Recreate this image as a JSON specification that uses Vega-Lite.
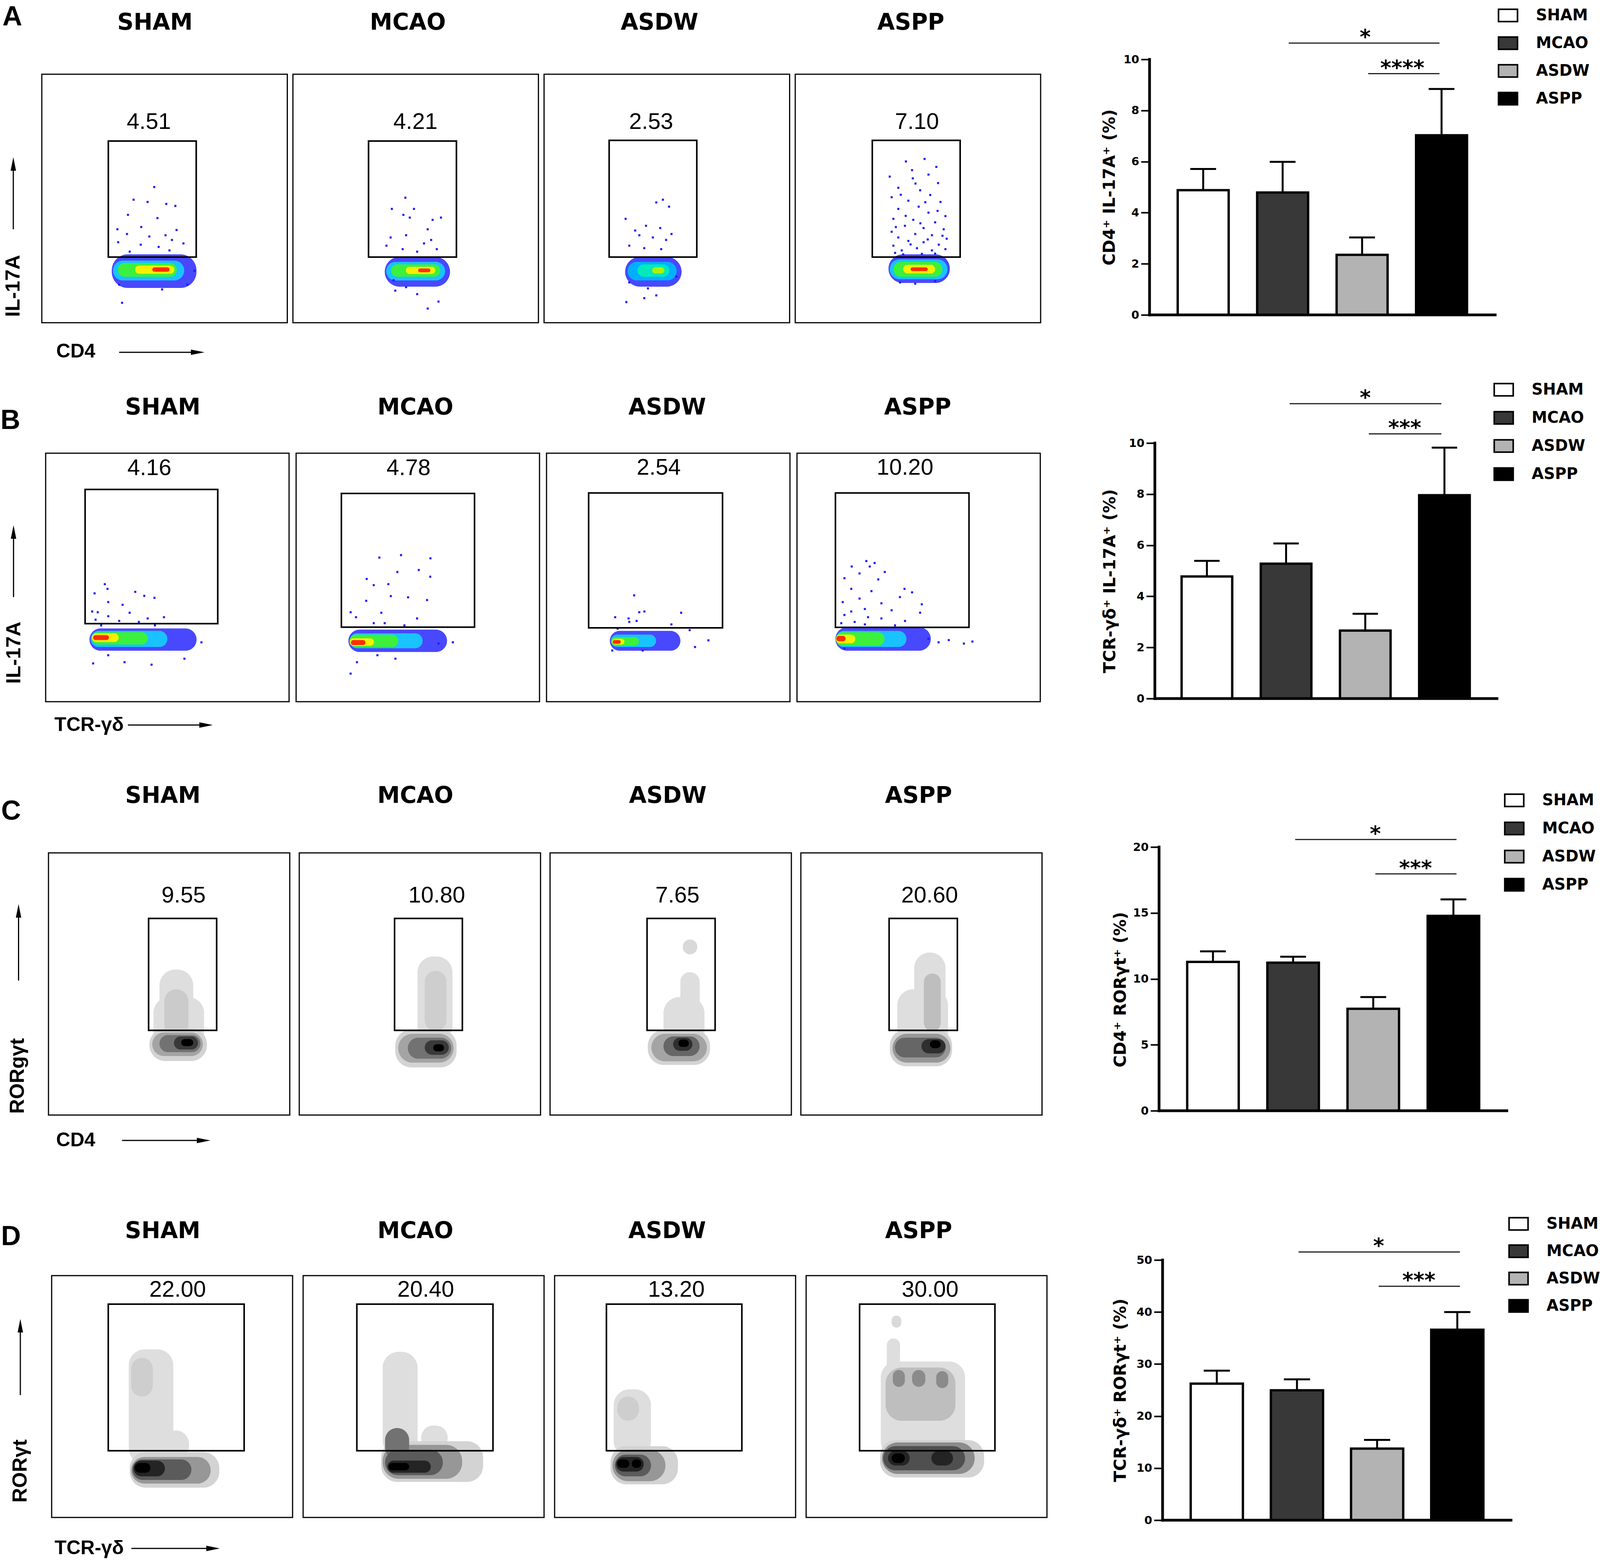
{
  "$schema": "https://vega.github.io/schema/vega-lite/v6.json",
  "background": "white",
  "padding": {"left": 1, "top": 9, "right": 0, "bottom": 0},
  "datasets": {
    "bars": [
      {"row": "A", "group": "SHAM", "mean": 4.88, "upper": 5.71},
      {"row": "A", "group": "MCAO", "mean": 4.79, "upper": 5.99},
      {"row": "A", "group": "ASDW", "mean": 2.35, "upper": 3.03},
      {"row": "A", "group": "ASPP", "mean": 7.03, "upper": 8.84},
      {"row": "B", "group": "SHAM", "mean": 4.78, "upper": 5.39},
      {"row": "B", "group": "MCAO", "mean": 5.28, "upper": 6.07},
      {"row": "B", "group": "ASDW", "mean": 2.66, "upper": 3.32},
      {"row": "B", "group": "ASPP", "mean": 7.96, "upper": 9.82},
      {"row": "C", "group": "SHAM", "mean": 11.29, "upper": 12.09},
      {"row": "C", "group": "MCAO", "mean": 11.23, "upper": 11.68},
      {"row": "C", "group": "ASDW", "mean": 7.73, "upper": 8.62},
      {"row": "C", "group": "ASPP", "mean": 14.78, "upper": 16.03},
      {"row": "D", "group": "SHAM", "mean": 26.24, "upper": 28.74},
      {"row": "D", "group": "MCAO", "mean": 24.97, "upper": 27.06},
      {"row": "D", "group": "ASDW", "mean": 13.75, "upper": 15.43},
      {"row": "D", "group": "ASPP", "mean": 36.6, "upper": 40.0}
    ],
    "axes": [
      {"row": "A", "xs": "SHAM", "xe": "ASPP", "y0": 0, "y1": 10},
      {"row": "B", "xs": "SHAM", "xe": "ASPP", "y0": 0, "y1": 10},
      {"row": "C", "xs": "SHAM", "xe": "ASPP", "y0": 0, "y1": 20},
      {"row": "D", "xs": "SHAM", "xe": "ASPP", "y0": 0, "y1": 50}
    ],
    "sig": [
      {"row": "A", "kind": "wide", "from": "MCAO", "to": "ASPP", "at": "ASDW", "y": 10.64, "label": "*"},
      {"row": "A", "kind": "narrow", "from": "ASDW", "to": "ASPP", "at": "ASDW", "y": 9.44, "label": "****"},
      {"row": "B", "kind": "wide", "from": "MCAO", "to": "ASPP", "at": "ASDW", "y": 11.54, "label": "*"},
      {"row": "B", "kind": "narrow", "from": "ASDW", "to": "ASPP", "at": "ASDW", "y": 10.36, "label": "***"},
      {"row": "C", "kind": "wide", "from": "MCAO", "to": "ASPP", "at": "ASDW", "y": 20.57, "label": "*"},
      {"row": "C", "kind": "narrow", "from": "ASDW", "to": "ASPP", "at": "ASDW", "y": 17.96, "label": "***"},
      {"row": "D", "kind": "wide", "from": "MCAO", "to": "ASPP", "at": "ASDW", "y": 51.54, "label": "*"},
      {"row": "D", "kind": "narrow", "from": "ASDW", "to": "ASPP", "at": "ASDW", "y": 44.96, "label": "***"}
    ],
    "flowA": [
      {"kind": "frame", "g": "SHAM", "x": 0, "x2": 100, "y": 0, "y2": 100},
      {"kind": "frame", "g": "MCAO", "x": 0, "x2": 100, "y": 0, "y2": 100},
      {"kind": "frame", "g": "ASDW", "x": 0, "x2": 100, "y": 0, "y2": 100},
      {"kind": "frame", "g": "ASPP", "x": 0, "x2": 100, "y": 0, "y2": 100},
      {"kind": "gate", "g": "SHAM", "x": 27.1, "x2": 62.9, "y": 26.4, "y2": 73.1},
      {"kind": "gate", "g": "MCAO", "x": 30.8, "x2": 66.6, "y": 26.4, "y2": 73.1},
      {"kind": "gate", "g": "ASDW", "x": 26.5, "x2": 62.2, "y": 26.4, "y2": 73.4},
      {"kind": "gate", "g": "ASPP", "x": 31.4, "x2": 67.2, "y": 26.4, "y2": 73.4},
      {"kind": "pct", "g": "SHAM", "x": 43.6, "y": 80.7, "t": "4.51"},
      {"kind": "pct", "g": "MCAO", "x": 49.9, "y": 80.7, "t": "4.21"},
      {"kind": "pct", "g": "ASDW", "x": 43.6, "y": 80.6, "t": "2.53"},
      {"kind": "pct", "g": "ASPP", "x": 49.6, "y": 80.6, "t": "7.10"},
      {"kind": "title", "g": "SHAM", "x": 46.1, "y": 120.6, "t": "SHAM"},
      {"kind": "title", "g": "MCAO", "x": 46.8, "y": 120.6, "t": "MCAO"},
      {"kind": "title", "g": "ASDW", "x": 47.0, "y": 120.6, "t": "ASDW"},
      {"kind": "title", "g": "ASPP", "x": 47.1, "y": 120.6, "t": "ASPP"},
      {"kind": "letter", "g": "SHAM", "x": -12.0, "y": 119.6, "t": "A"},
      {"kind": "ylab", "g": "SHAM", "x": -11.6, "y": 14.8, "t": "IL-17A"},
      {"kind": "arrow", "g": "SHAM", "x": -11.6, "x2": -11.6, "y": 37.6, "y2": 63.9},
      {"kind": "headup", "g": "SHAM", "x": -11.6, "y": 63.9},
      {"kind": "xlab", "g": "SHAM", "x": 5.9, "y": -11.6, "t": "CD4"},
      {"kind": "arrow", "g": "SHAM", "x": 31.5, "x2": 63.5, "y": -11.9, "y2": -11.9},
      {"kind": "headright", "g": "SHAM", "x": 63.5, "y": -11.9},
      {"kind": "blob", "g": "SHAM", "x": 28.5, "x2": 63, "y": 14, "y2": 27.5, "d": 0.1},
      {"kind": "blob", "g": "SHAM", "x": 29, "x2": 58, "y": 17, "y2": 25, "d": 0.35},
      {"kind": "blob", "g": "SHAM", "x": 31, "x2": 55, "y": 18.5, "y2": 24, "d": 0.6},
      {"kind": "blob", "g": "SHAM", "x": 38, "x2": 54, "y": 19.7, "y2": 23, "d": 0.8},
      {"kind": "blob", "g": "SHAM", "x": 45, "x2": 52, "y": 20.5, "y2": 22.3, "d": 1},
      {"kind": "blob", "g": "MCAO", "x": 37.4, "x2": 64, "y": 14.5, "y2": 26.5, "d": 0.1},
      {"kind": "blob", "g": "MCAO", "x": 38, "x2": 62, "y": 17, "y2": 24.5, "d": 0.35},
      {"kind": "blob", "g": "MCAO", "x": 40, "x2": 60, "y": 18.5, "y2": 23.5, "d": 0.6},
      {"kind": "blob", "g": "MCAO", "x": 46, "x2": 58, "y": 19.6, "y2": 22.5, "d": 0.8},
      {"kind": "blob", "g": "MCAO", "x": 51, "x2": 56, "y": 20.3, "y2": 21.8, "d": 1},
      {"kind": "blob", "g": "ASDW", "x": 33, "x2": 56, "y": 14.5, "y2": 26.5, "d": 0.1},
      {"kind": "blob", "g": "ASDW", "x": 34, "x2": 54, "y": 17, "y2": 24.5, "d": 0.3},
      {"kind": "blob", "g": "ASDW", "x": 38, "x2": 51, "y": 18.5, "y2": 23.5, "d": 0.5},
      {"kind": "blob", "g": "ASDW", "x": 44, "x2": 49, "y": 19.8, "y2": 22.3, "d": 0.7},
      {"kind": "blob", "g": "ASPP", "x": 38, "x2": 63, "y": 16, "y2": 27.5, "d": 0.1},
      {"kind": "blob", "g": "ASPP", "x": 38.5, "x2": 62, "y": 17.5, "y2": 25.5, "d": 0.35},
      {"kind": "blob", "g": "ASPP", "x": 40, "x2": 60, "y": 18.5, "y2": 24.5, "d": 0.6},
      {"kind": "blob", "g": "ASPP", "x": 44, "x2": 57, "y": 19.8, "y2": 23.3, "d": 0.8},
      {"kind": "blob", "g": "ASPP", "x": 47, "x2": 54, "y": 20.8, "y2": 22.3, "d": 1},
      {"kind": "dot", "g": "SHAM", "x": 45.8, "y": 54.6}, {"kind": "dot", "g": "SHAM", "x": 37.4, "y": 49.5},
      {"kind": "dot", "g": "SHAM", "x": 43.1, "y": 48.6}, {"kind": "dot", "g": "SHAM", "x": 50.7, "y": 47.8},
      {"kind": "dot", "g": "SHAM", "x": 54.4, "y": 47.0}, {"kind": "dot", "g": "SHAM", "x": 35.1, "y": 43.4},
      {"kind": "dot", "g": "SHAM", "x": 47.1, "y": 42.1}, {"kind": "dot", "g": "SHAM", "x": 30.8, "y": 37.6},
      {"kind": "dot", "g": "SHAM", "x": 40.5, "y": 38.5}, {"kind": "dot", "g": "SHAM", "x": 54.9, "y": 37.3},
      {"kind": "dot", "g": "SHAM", "x": 34.7, "y": 35.7}, {"kind": "dot", "g": "SHAM", "x": 43.8, "y": 34.7},
      {"kind": "dot", "g": "SHAM", "x": 50.4, "y": 35.2}, {"kind": "dot", "g": "SHAM", "x": 53.0, "y": 33.3},
      {"kind": "dot", "g": "SHAM", "x": 31.1, "y": 32.4}, {"kind": "dot", "g": "SHAM", "x": 40.3, "y": 31.4},
      {"kind": "dot", "g": "SHAM", "x": 47.6, "y": 30.5}, {"kind": "dot", "g": "SHAM", "x": 57.7, "y": 31.9},
      {"kind": "dot", "g": "SHAM", "x": 35.8, "y": 28.6}, {"kind": "dot", "g": "SHAM", "x": 52.0, "y": 29.1},
      {"kind": "dot", "g": "SHAM", "x": 32.7, "y": 8.0}, {"kind": "dot", "g": "SHAM", "x": 31.5, "y": 15.3},
      {"kind": "dot", "g": "SHAM", "x": 49.0, "y": 13.4}, {"kind": "dot", "g": "SHAM", "x": 59.3, "y": 15.3},
      {"kind": "dot", "g": "SHAM", "x": 62.2, "y": 20.9},
      {"kind": "dot", "g": "MCAO", "x": 45.8, "y": 50.3}, {"kind": "dot", "g": "MCAO", "x": 49.3, "y": 45.8},
      {"kind": "dot", "g": "MCAO", "x": 40.3, "y": 45.8}, {"kind": "dot", "g": "MCAO", "x": 45.0, "y": 43.4},
      {"kind": "dot", "g": "MCAO", "x": 47.6, "y": 42.3}, {"kind": "dot", "g": "MCAO", "x": 60.3, "y": 42.3},
      {"kind": "dot", "g": "MCAO", "x": 56.9, "y": 41.4}, {"kind": "dot", "g": "MCAO", "x": 39.8, "y": 34.3},
      {"kind": "dot", "g": "MCAO", "x": 46.1, "y": 35.2}, {"kind": "dot", "g": "MCAO", "x": 54.9, "y": 37.6},
      {"kind": "dot", "g": "MCAO", "x": 53.4, "y": 31.9}, {"kind": "dot", "g": "MCAO", "x": 56.3, "y": 33.3},
      {"kind": "dot", "g": "MCAO", "x": 38.1, "y": 31.0}, {"kind": "dot", "g": "MCAO", "x": 44.7, "y": 29.6},
      {"kind": "dot", "g": "MCAO", "x": 50.6, "y": 28.6}, {"kind": "dot", "g": "MCAO", "x": 58.6, "y": 29.6},
      {"kind": "dot", "g": "MCAO", "x": 41.0, "y": 17.1}, {"kind": "dot", "g": "MCAO", "x": 54.9, "y": 5.7},
      {"kind": "dot", "g": "MCAO", "x": 59.3, "y": 8.5}, {"kind": "dot", "g": "MCAO", "x": 50.6, "y": 11.5},
      {"kind": "dot", "g": "MCAO", "x": 41.7, "y": 12.9}, {"kind": "dot", "g": "MCAO", "x": 46.1, "y": 14.3},
      {"kind": "dot", "g": "ASDW", "x": 48.4, "y": 49.5}, {"kind": "dot", "g": "ASDW", "x": 45.7, "y": 48.4},
      {"kind": "dot", "g": "ASDW", "x": 50.9, "y": 46.7}, {"kind": "dot", "g": "ASDW", "x": 33.2, "y": 41.8},
      {"kind": "dot", "g": "ASDW", "x": 41.5, "y": 39.0}, {"kind": "dot", "g": "ASDW", "x": 47.3, "y": 38.1},
      {"kind": "dot", "g": "ASDW", "x": 37.1, "y": 37.1}, {"kind": "dot", "g": "ASDW", "x": 51.9, "y": 35.7},
      {"kind": "dot", "g": "ASDW", "x": 38.8, "y": 35.2}, {"kind": "dot", "g": "ASDW", "x": 44.3, "y": 34.3},
      {"kind": "dot", "g": "ASDW", "x": 49.7, "y": 33.3}, {"kind": "dot", "g": "ASDW", "x": 34.7, "y": 31.0},
      {"kind": "dot", "g": "ASDW", "x": 40.8, "y": 30.0}, {"kind": "dot", "g": "ASDW", "x": 47.7, "y": 29.6},
      {"kind": "dot", "g": "ASDW", "x": 33.5, "y": 8.3}, {"kind": "dot", "g": "ASDW", "x": 40.8, "y": 9.9},
      {"kind": "dot", "g": "ASDW", "x": 45.7, "y": 11.0}, {"kind": "dot", "g": "ASDW", "x": 42.3, "y": 13.8},
      {"kind": "dot", "g": "ASDW", "x": 34.7, "y": 16.2}, {"kind": "dot", "g": "ASDW", "x": 53.9, "y": 18.6},
      {"kind": "dot", "g": "ASPP", "x": 45.1, "y": 64.9}, {"kind": "dot", "g": "ASPP", "x": 52.7, "y": 65.9},
      {"kind": "dot", "g": "ASPP", "x": 57.5, "y": 62.7}, {"kind": "dot", "g": "ASPP", "x": 54.3, "y": 59.6},
      {"kind": "dot", "g": "ASPP", "x": 47.6, "y": 61.4}, {"kind": "dot", "g": "ASPP", "x": 38.5, "y": 58.8},
      {"kind": "dot", "g": "ASPP", "x": 47.9, "y": 58.1}, {"kind": "dot", "g": "ASPP", "x": 58.2, "y": 56.2},
      {"kind": "dot", "g": "ASPP", "x": 42.0, "y": 54.3}, {"kind": "dot", "g": "ASPP", "x": 50.9, "y": 53.3},
      {"kind": "dot", "g": "ASPP", "x": 55.0, "y": 51.4}, {"kind": "dot", "g": "ASPP", "x": 39.3, "y": 50.5},
      {"kind": "dot", "g": "ASPP", "x": 46.1, "y": 49.1}, {"kind": "dot", "g": "ASPP", "x": 59.2, "y": 48.6},
      {"kind": "dot", "g": "ASPP", "x": 50.3, "y": 46.7}, {"kind": "dot", "g": "ASPP", "x": 42.0, "y": 45.8},
      {"kind": "dot", "g": "ASPP", "x": 54.3, "y": 44.3}, {"kind": "dot", "g": "ASPP", "x": 61.2, "y": 42.9},
      {"kind": "dot", "g": "ASPP", "x": 40.0, "y": 41.8}, {"kind": "dot", "g": "ASPP", "x": 48.1, "y": 41.4},
      {"kind": "dot", "g": "ASPP", "x": 57.0, "y": 40.4}, {"kind": "dot", "g": "ASPP", "x": 44.7, "y": 39.0},
      {"kind": "dot", "g": "ASPP", "x": 52.3, "y": 38.1}, {"kind": "dot", "g": "ASPP", "x": 60.5, "y": 37.6},
      {"kind": "dot", "g": "ASPP", "x": 39.3, "y": 36.6}, {"kind": "dot", "g": "ASPP", "x": 48.9, "y": 35.7},
      {"kind": "dot", "g": "ASPP", "x": 55.7, "y": 35.2}, {"kind": "dot", "g": "ASPP", "x": 42.0, "y": 34.3},
      {"kind": "dot", "g": "ASPP", "x": 61.7, "y": 33.8}, {"kind": "dot", "g": "ASPP", "x": 46.1, "y": 32.9},
      {"kind": "dot", "g": "ASPP", "x": 52.3, "y": 32.4}, {"kind": "dot", "g": "ASPP", "x": 58.5, "y": 31.4},
      {"kind": "dot", "g": "ASPP", "x": 40.0, "y": 31.0}, {"kind": "dot", "g": "ASPP", "x": 49.6, "y": 30.0},
      {"kind": "dot", "g": "ASPP", "x": 43.4, "y": 29.1}, {"kind": "dot", "g": "ASPP", "x": 55.7, "y": 29.1},
      {"kind": "dot", "g": "ASPP", "x": 61.2, "y": 29.6}, {"kind": "dot", "g": "ASPP", "x": 40.7, "y": 28.1},
      {"kind": "dot", "g": "ASPP", "x": 51.6, "y": 27.7}, {"kind": "dot", "g": "ASPP", "x": 44.0, "y": 27.5},
      {"kind": "dot", "g": "ASPP", "x": 57.0, "y": 27.8}, {"kind": "dot", "g": "ASPP", "x": 47.0, "y": 31.5},
      {"kind": "dot", "g": "ASPP", "x": 54.0, "y": 33.5}, {"kind": "dot", "g": "ASPP", "x": 60.0, "y": 35.0},
      {"kind": "dot", "g": "ASPP", "x": 41.0, "y": 38.5}, {"kind": "dot", "g": "ASPP", "x": 51.0, "y": 40.0},
      {"kind": "dot", "g": "ASPP", "x": 45.0, "y": 43.0}, {"kind": "dot", "g": "ASPP", "x": 58.0, "y": 45.0},
      {"kind": "dot", "g": "ASPP", "x": 53.0, "y": 48.5}, {"kind": "dot", "g": "ASPP", "x": 43.0, "y": 51.5},
      {"kind": "dot", "g": "ASPP", "x": 49.0, "y": 56.0}, {"kind": "dot", "g": "ASPP", "x": 42.7, "y": 16.2},
      {"kind": "dot", "g": "ASPP", "x": 48.9, "y": 15.7}, {"kind": "dot", "g": "ASPP", "x": 57.0, "y": 16.7}
    ],
    "flowB": [
      {"kind": "frame", "g": "SHAM", "x": 0, "x2": 100, "y": 0, "y2": 100},
      {"kind": "frame", "g": "MCAO", "x": 0, "x2": 100, "y": 0, "y2": 100},
      {"kind": "frame", "g": "ASDW", "x": 0, "x2": 100, "y": 0, "y2": 100},
      {"kind": "frame", "g": "ASPP", "x": 0, "x2": 100, "y": 0, "y2": 100},
      {"kind": "gate", "g": "SHAM", "x": 16.2, "x2": 70.7, "y": 31.4, "y2": 85.4},
      {"kind": "gate", "g": "MCAO", "x": 18.6, "x2": 73.3, "y": 30.0, "y2": 83.8},
      {"kind": "gate", "g": "ASDW", "x": 17.3, "x2": 72.3, "y": 29.7, "y2": 84.0},
      {"kind": "gate", "g": "ASPP", "x": 15.8, "x2": 70.7, "y": 29.9, "y2": 84.0},
      {"kind": "pct", "g": "SHAM", "x": 42.6, "y": 93.8, "t": "4.16"},
      {"kind": "pct", "g": "MCAO", "x": 46.2, "y": 93.8, "t": "4.78"},
      {"kind": "pct", "g": "ASDW", "x": 46.1, "y": 94.0, "t": "2.54"},
      {"kind": "pct", "g": "ASPP", "x": 44.4, "y": 94.0, "t": "10.20"},
      {"kind": "title", "g": "SHAM", "x": 48.1, "y": 118.2, "t": "SHAM"},
      {"kind": "title", "g": "MCAO", "x": 49.0, "y": 118.2, "t": "MCAO"},
      {"kind": "title", "g": "ASDW", "x": 49.6, "y": 118.2, "t": "ASDW"},
      {"kind": "title", "g": "ASPP", "x": 49.6, "y": 118.2, "t": "ASPP"},
      {"kind": "letter", "g": "SHAM", "x": -14.5, "y": 109.7, "t": "B"},
      {"kind": "ylab", "g": "SHAM", "x": -13.0, "y": 19.7, "t": "IL-17A"},
      {"kind": "arrow", "g": "SHAM", "x": -13.2, "x2": -13.2, "y": 42.1, "y2": 68.3},
      {"kind": "headup", "g": "SHAM", "x": -13.2, "y": 68.3},
      {"kind": "xlab", "g": "SHAM", "x": 3.6, "y": -9.4, "t": "TCR-γδ"},
      {"kind": "arrow", "g": "SHAM", "x": 33.8, "x2": 65.9, "y": -9.4, "y2": -9.4},
      {"kind": "headright", "g": "SHAM", "x": 65.9, "y": -9.4},
      {"kind": "blob", "g": "SHAM", "x": 18, "x2": 62, "y": 20.5, "y2": 29.5, "d": 0.1},
      {"kind": "blob", "g": "SHAM", "x": 18.5, "x2": 50, "y": 22, "y2": 28.5, "d": 0.35},
      {"kind": "blob", "g": "SHAM", "x": 19, "x2": 42, "y": 23, "y2": 28, "d": 0.6},
      {"kind": "blob", "g": "SHAM", "x": 19, "x2": 30, "y": 24, "y2": 27.5, "d": 0.8},
      {"kind": "blob", "g": "SHAM", "x": 19.5, "x2": 26, "y": 24.8, "y2": 26.8, "d": 1},
      {"kind": "blob", "g": "MCAO", "x": 21.5, "x2": 62, "y": 20, "y2": 29, "d": 0.1},
      {"kind": "blob", "g": "MCAO", "x": 22, "x2": 52, "y": 21.5, "y2": 27.5, "d": 0.35},
      {"kind": "blob", "g": "MCAO", "x": 22, "x2": 42, "y": 22, "y2": 27, "d": 0.6},
      {"kind": "blob", "g": "MCAO", "x": 22, "x2": 32, "y": 22.5, "y2": 25.5, "d": 0.8},
      {"kind": "blob", "g": "MCAO", "x": 22.5, "x2": 28.5, "y": 22.8, "y2": 24.8, "d": 1},
      {"kind": "blob", "g": "ASDW", "x": 26, "x2": 55, "y": 20.5, "y2": 28.5, "d": 0.1},
      {"kind": "blob", "g": "ASDW", "x": 26.5, "x2": 45, "y": 22, "y2": 27, "d": 0.35},
      {"kind": "blob", "g": "ASDW", "x": 26.5, "x2": 38, "y": 22.5, "y2": 26, "d": 0.6},
      {"kind": "blob", "g": "ASDW", "x": 27, "x2": 32, "y": 23, "y2": 25.3, "d": 0.8},
      {"kind": "blob", "g": "ASDW", "x": 27.2, "x2": 30.5, "y": 23.3, "y2": 24.8, "d": 1},
      {"kind": "blob", "g": "ASPP", "x": 15.8, "x2": 55, "y": 20.5, "y2": 30, "d": 0.1},
      {"kind": "blob", "g": "ASPP", "x": 16, "x2": 45, "y": 22, "y2": 28.5, "d": 0.35},
      {"kind": "blob", "g": "ASPP", "x": 16, "x2": 36, "y": 22.5, "y2": 28, "d": 0.6},
      {"kind": "blob", "g": "ASPP", "x": 16, "x2": 24, "y": 23.5, "y2": 27, "d": 0.8},
      {"kind": "blob", "g": "ASPP", "x": 16.2, "x2": 20, "y": 24.3, "y2": 26.5, "d": 1},
      {"kind": "dot", "g": "SHAM", "x": 24.3, "y": 47.3}, {"kind": "dot", "g": "SHAM", "x": 20.1, "y": 43.6},
      {"kind": "dot", "g": "SHAM", "x": 25.4, "y": 45.4}, {"kind": "dot", "g": "SHAM", "x": 36.8, "y": 44.2},
      {"kind": "dot", "g": "SHAM", "x": 44.7, "y": 41.8}, {"kind": "dot", "g": "SHAM", "x": 40.5, "y": 42.6},
      {"kind": "dot", "g": "SHAM", "x": 25.7, "y": 40.1}, {"kind": "dot", "g": "SHAM", "x": 31.6, "y": 39.0},
      {"kind": "dot", "g": "SHAM", "x": 19.1, "y": 36.3}, {"kind": "dot", "g": "SHAM", "x": 21.4, "y": 36.0},
      {"kind": "dot", "g": "SHAM", "x": 34.5, "y": 35.8}, {"kind": "dot", "g": "SHAM", "x": 25.7, "y": 34.4},
      {"kind": "dot", "g": "SHAM", "x": 41.9, "y": 33.5}, {"kind": "dot", "g": "SHAM", "x": 48.6, "y": 34.0},
      {"kind": "dot", "g": "SHAM", "x": 20.5, "y": 33.0}, {"kind": "dot", "g": "SHAM", "x": 30.2, "y": 32.5},
      {"kind": "dot", "g": "SHAM", "x": 38.3, "y": 32.1}, {"kind": "dot", "g": "SHAM", "x": 22.8, "y": 30.7},
      {"kind": "dot", "g": "SHAM", "x": 44.9, "y": 30.7}, {"kind": "dot", "g": "SHAM", "x": 19.5, "y": 15.4},
      {"kind": "dot", "g": "SHAM", "x": 32.4, "y": 15.9}, {"kind": "dot", "g": "SHAM", "x": 43.5, "y": 14.9},
      {"kind": "dot", "g": "SHAM", "x": 57.0, "y": 17.3}, {"kind": "dot", "g": "SHAM", "x": 64.0, "y": 23.9},
      {"kind": "dot", "g": "SHAM", "x": 25.7, "y": 18.7},
      {"kind": "dot", "g": "MCAO", "x": 43.1, "y": 59.0}, {"kind": "dot", "g": "MCAO", "x": 34.2, "y": 58.0},
      {"kind": "dot", "g": "MCAO", "x": 55.2, "y": 57.7}, {"kind": "dot", "g": "MCAO", "x": 50.4, "y": 53.0},
      {"kind": "dot", "g": "MCAO", "x": 55.1, "y": 50.3}, {"kind": "dot", "g": "MCAO", "x": 41.6, "y": 52.2},
      {"kind": "dot", "g": "MCAO", "x": 29.0, "y": 49.4}, {"kind": "dot", "g": "MCAO", "x": 37.9, "y": 47.3},
      {"kind": "dot", "g": "MCAO", "x": 31.9, "y": 46.9}, {"kind": "dot", "g": "MCAO", "x": 46.0, "y": 42.0},
      {"kind": "dot", "g": "MCAO", "x": 28.8, "y": 40.6}, {"kind": "dot", "g": "MCAO", "x": 38.9, "y": 42.5},
      {"kind": "dot", "g": "MCAO", "x": 53.8, "y": 40.9}, {"kind": "dot", "g": "MCAO", "x": 22.4, "y": 36.0},
      {"kind": "dot", "g": "MCAO", "x": 35.0, "y": 35.8}, {"kind": "dot", "g": "MCAO", "x": 49.7, "y": 33.5},
      {"kind": "dot", "g": "MCAO", "x": 24.6, "y": 34.0}, {"kind": "dot", "g": "MCAO", "x": 31.9, "y": 31.6},
      {"kind": "dot", "g": "MCAO", "x": 36.4, "y": 31.6}, {"kind": "dot", "g": "MCAO", "x": 44.5, "y": 30.7},
      {"kind": "dot", "g": "MCAO", "x": 64.4, "y": 23.9}, {"kind": "dot", "g": "MCAO", "x": 58.5, "y": 23.4},
      {"kind": "dot", "g": "MCAO", "x": 22.4, "y": 11.3}, {"kind": "dot", "g": "MCAO", "x": 25.0, "y": 15.9},
      {"kind": "dot", "g": "MCAO", "x": 40.8, "y": 17.3}, {"kind": "dot", "g": "MCAO", "x": 33.4, "y": 18.7},
      {"kind": "dot", "g": "ASDW", "x": 36.0, "y": 42.8}, {"kind": "dot", "g": "ASDW", "x": 38.1, "y": 36.0},
      {"kind": "dot", "g": "ASDW", "x": 40.2, "y": 36.3}, {"kind": "dot", "g": "ASDW", "x": 55.3, "y": 35.8},
      {"kind": "dot", "g": "ASDW", "x": 28.2, "y": 34.0}, {"kind": "dot", "g": "ASDW", "x": 33.7, "y": 33.5},
      {"kind": "dot", "g": "ASDW", "x": 37.0, "y": 32.5}, {"kind": "dot", "g": "ASDW", "x": 34.0, "y": 32.1},
      {"kind": "dot", "g": "ASDW", "x": 51.3, "y": 31.1}, {"kind": "dot", "g": "ASDW", "x": 29.2, "y": 29.4},
      {"kind": "dot", "g": "ASDW", "x": 58.8, "y": 28.8}, {"kind": "dot", "g": "ASDW", "x": 66.5, "y": 24.7},
      {"kind": "dot", "g": "ASDW", "x": 61.0, "y": 22.0}, {"kind": "dot", "g": "ASDW", "x": 39.5, "y": 20.6},
      {"kind": "dot", "g": "ASDW", "x": 27.0, "y": 20.6},
      {"kind": "dot", "g": "ASPP", "x": 31.9, "y": 55.8}, {"kind": "dot", "g": "ASPP", "x": 29.9, "y": 54.4},
      {"kind": "dot", "g": "ASPP", "x": 28.5, "y": 56.6}, {"kind": "dot", "g": "ASPP", "x": 22.5, "y": 54.4},
      {"kind": "dot", "g": "ASPP", "x": 36.1, "y": 52.2}, {"kind": "dot", "g": "ASPP", "x": 19.5, "y": 49.7},
      {"kind": "dot", "g": "ASPP", "x": 25.7, "y": 51.6}, {"kind": "dot", "g": "ASPP", "x": 33.4, "y": 49.2},
      {"kind": "dot", "g": "ASPP", "x": 22.3, "y": 45.4}, {"kind": "dot", "g": "ASPP", "x": 30.6, "y": 44.5},
      {"kind": "dot", "g": "ASPP", "x": 44.2, "y": 45.4}, {"kind": "dot", "g": "ASPP", "x": 47.3, "y": 44.0},
      {"kind": "dot", "g": "ASPP", "x": 42.3, "y": 42.1}, {"kind": "dot", "g": "ASPP", "x": 25.7, "y": 41.5},
      {"kind": "dot", "g": "ASPP", "x": 18.8, "y": 40.1}, {"kind": "dot", "g": "ASPP", "x": 34.7, "y": 39.6},
      {"kind": "dot", "g": "ASPP", "x": 51.3, "y": 39.2}, {"kind": "dot", "g": "ASPP", "x": 27.9, "y": 37.3},
      {"kind": "dot", "g": "ASPP", "x": 22.3, "y": 36.3}, {"kind": "dot", "g": "ASPP", "x": 38.9, "y": 36.8},
      {"kind": "dot", "g": "ASPP", "x": 50.6, "y": 35.8}, {"kind": "dot", "g": "ASPP", "x": 19.5, "y": 34.9},
      {"kind": "dot", "g": "ASPP", "x": 29.2, "y": 34.0}, {"kind": "dot", "g": "ASPP", "x": 34.7, "y": 33.5},
      {"kind": "dot", "g": "ASPP", "x": 44.4, "y": 32.5}, {"kind": "dot", "g": "ASPP", "x": 23.7, "y": 32.1},
      {"kind": "dot", "g": "ASPP", "x": 18.2, "y": 31.6}, {"kind": "dot", "g": "ASPP", "x": 27.9, "y": 31.1},
      {"kind": "dot", "g": "ASPP", "x": 40.3, "y": 30.7}, {"kind": "dot", "g": "ASPP", "x": 58.2, "y": 23.9},
      {"kind": "dot", "g": "ASPP", "x": 62.4, "y": 24.8}, {"kind": "dot", "g": "ASPP", "x": 68.6, "y": 23.4},
      {"kind": "dot", "g": "ASPP", "x": 72.1, "y": 24.2}, {"kind": "dot", "g": "ASPP", "x": 54.0, "y": 25.3},
      {"kind": "dot", "g": "ASPP", "x": 19.5, "y": 21.5}
    ],
    "flowC": [
      {"kind": "frame", "g": "SHAM", "x": 0, "x2": 100, "y": 0, "y2": 100},
      {"kind": "frame", "g": "MCAO", "x": 0, "x2": 100, "y": 0, "y2": 100},
      {"kind": "frame", "g": "ASDW", "x": 0, "x2": 100, "y": 0, "y2": 100},
      {"kind": "frame", "g": "ASPP", "x": 0, "x2": 100, "y": 0, "y2": 100},
      {"kind": "gate", "g": "SHAM", "x": 41.5, "x2": 69.7, "y": 32.3, "y2": 75.0},
      {"kind": "gate", "g": "MCAO", "x": 39.5, "x2": 67.6, "y": 32.3, "y2": 75.0},
      {"kind": "gate", "g": "ASDW", "x": 40.2, "x2": 68.4, "y": 32.3, "y2": 75.0},
      {"kind": "gate", "g": "ASPP", "x": 36.6, "x2": 64.9, "y": 32.3, "y2": 75.0},
      {"kind": "pct", "g": "SHAM", "x": 56.0, "y": 83.6, "t": "9.55"},
      {"kind": "pct", "g": "MCAO", "x": 57.0, "y": 83.6, "t": "10.80"},
      {"kind": "pct", "g": "ASDW", "x": 52.8, "y": 83.6, "t": "7.65"},
      {"kind": "pct", "g": "ASPP", "x": 53.4, "y": 83.6, "t": "20.60"},
      {"kind": "title", "g": "SHAM", "x": 47.4, "y": 121.6, "t": "SHAM"},
      {"kind": "title", "g": "MCAO", "x": 48.1, "y": 121.6, "t": "MCAO"},
      {"kind": "title", "g": "ASDW", "x": 48.8, "y": 121.6, "t": "ASDW"},
      {"kind": "title", "g": "ASPP", "x": 48.8, "y": 121.6, "t": "ASPP"},
      {"kind": "letter", "g": "SHAM", "x": -15.5, "y": 112.7, "t": "C"},
      {"kind": "ylab", "g": "SHAM", "x": -12.8, "y": 14.9, "t": "RORgγt"},
      {"kind": "arrow", "g": "SHAM", "x": -12.4, "x2": -12.4, "y": 51.3, "y2": 77.9},
      {"kind": "headup", "g": "SHAM", "x": -12.4, "y": 77.9},
      {"kind": "xlab", "g": "SHAM", "x": 3.2, "y": -9.7, "t": "CD4"},
      {"kind": "arrow", "g": "SHAM", "x": 30.5, "x2": 64.3, "y": -9.7, "y2": -9.7},
      {"kind": "headright", "g": "SHAM", "x": 64.3, "y": -9.7},
      {"kind": "blob", "g": "SHAM", "x": 43.5, "x2": 64.5, "y": 22, "y2": 45, "d": 0.08},
      {"kind": "blob", "g": "SHAM", "x": 46, "x2": 60, "y": 35, "y2": 55.5, "d": 0.08},
      {"kind": "blob", "g": "SHAM", "x": 48, "x2": 58, "y": 30, "y2": 48, "d": 0.15},
      {"kind": "blob", "g": "SHAM", "x": 41.8, "x2": 65.7, "y": 20.6, "y2": 33, "d": 0.12},
      {"kind": "blob", "g": "SHAM", "x": 43, "x2": 64, "y": 22.5, "y2": 31.5, "d": 0.3},
      {"kind": "blob", "g": "SHAM", "x": 46, "x2": 63, "y": 24, "y2": 30.5, "d": 0.5},
      {"kind": "blob", "g": "SHAM", "x": 52, "x2": 62, "y": 25, "y2": 30, "d": 0.75},
      {"kind": "blob", "g": "SHAM", "x": 55, "x2": 60, "y": 26.3, "y2": 29, "d": 1},
      {"kind": "blob", "g": "MCAO", "x": 49, "x2": 63.5, "y": 28, "y2": 60.5, "d": 0.08},
      {"kind": "blob", "g": "MCAO", "x": 52, "x2": 61, "y": 32, "y2": 55, "d": 0.14},
      {"kind": "blob", "g": "MCAO", "x": 39.8, "x2": 65.2, "y": 18.2, "y2": 32.6, "d": 0.12},
      {"kind": "blob", "g": "MCAO", "x": 41, "x2": 64, "y": 20, "y2": 31, "d": 0.3},
      {"kind": "blob", "g": "MCAO", "x": 45, "x2": 63, "y": 21.5, "y2": 29.5, "d": 0.5},
      {"kind": "blob", "g": "MCAO", "x": 52, "x2": 62, "y": 23, "y2": 28.5, "d": 0.75},
      {"kind": "blob", "g": "MCAO", "x": 55.5, "x2": 60, "y": 24.3, "y2": 27, "d": 1},
      {"kind": "blob", "g": "ASDW", "x": 47, "x2": 64, "y": 25, "y2": 45, "d": 0.08},
      {"kind": "blob", "g": "ASDW", "x": 54, "x2": 62, "y": 35, "y2": 54.5, "d": 0.08},
      {"kind": "blob", "g": "ASDW", "x": 55, "x2": 61, "y": 61.3, "y2": 67, "d": 0.1},
      {"kind": "blob", "g": "ASDW", "x": 40.5, "x2": 66.3, "y": 19.1, "y2": 32.5, "d": 0.12},
      {"kind": "blob", "g": "ASDW", "x": 42, "x2": 65, "y": 20.5, "y2": 31, "d": 0.3},
      {"kind": "blob", "g": "ASDW", "x": 47, "x2": 62, "y": 22.5, "y2": 30, "d": 0.55},
      {"kind": "blob", "g": "ASDW", "x": 51, "x2": 59, "y": 24.5, "y2": 29.5, "d": 0.8},
      {"kind": "blob", "g": "ASDW", "x": 53.2, "x2": 57.5, "y": 26, "y2": 28.8, "d": 1},
      {"kind": "blob", "g": "ASPP", "x": 40, "x2": 61, "y": 25, "y2": 48, "d": 0.08},
      {"kind": "blob", "g": "ASPP", "x": 47, "x2": 60, "y": 38, "y2": 62, "d": 0.08},
      {"kind": "blob", "g": "ASPP", "x": 51, "x2": 58, "y": 32, "y2": 54, "d": 0.2},
      {"kind": "blob", "g": "ASPP", "x": 36.9, "x2": 62.7, "y": 18.6, "y2": 32.6, "d": 0.12},
      {"kind": "blob", "g": "ASPP", "x": 38, "x2": 62, "y": 20, "y2": 31, "d": 0.35},
      {"kind": "blob", "g": "ASPP", "x": 39, "x2": 60, "y": 22, "y2": 29.5, "d": 0.55},
      {"kind": "blob", "g": "ASPP", "x": 50, "x2": 60, "y": 23.5, "y2": 29, "d": 0.8},
      {"kind": "blob", "g": "ASPP", "x": 53.5, "x2": 58, "y": 25.5, "y2": 28.5, "d": 1}
    ],
    "flowD": [
      {"kind": "frame", "g": "SHAM", "x": 0, "x2": 100, "y": 0, "y2": 100},
      {"kind": "frame", "g": "MCAO", "x": 0, "x2": 100, "y": 0, "y2": 100},
      {"kind": "frame", "g": "ASDW", "x": 0, "x2": 100, "y": 0, "y2": 100},
      {"kind": "frame", "g": "ASPP", "x": 0, "x2": 100, "y": 0, "y2": 100},
      {"kind": "gate", "g": "SHAM", "x": 23.5, "x2": 79.9, "y": 27.6, "y2": 88.2},
      {"kind": "gate", "g": "MCAO", "x": 22.3, "x2": 78.8, "y": 27.6, "y2": 88.2},
      {"kind": "gate", "g": "ASDW", "x": 21.5, "x2": 77.7, "y": 27.6, "y2": 88.2},
      {"kind": "gate", "g": "ASPP", "x": 22.2, "x2": 78.4, "y": 27.6, "y2": 88.2},
      {"kind": "pct", "g": "SHAM", "x": 52.3, "y": 94.1, "t": "22.00"},
      {"kind": "pct", "g": "MCAO", "x": 50.9, "y": 94.1, "t": "20.40"},
      {"kind": "pct", "g": "ASDW", "x": 50.5, "y": 94.1, "t": "13.20"},
      {"kind": "pct", "g": "ASPP", "x": 51.5, "y": 94.1, "t": "30.00"},
      {"kind": "title", "g": "SHAM", "x": 46.1, "y": 118.3, "t": "SHAM"},
      {"kind": "title", "g": "MCAO", "x": 46.6, "y": 118.3, "t": "MCAO"},
      {"kind": "title", "g": "ASDW", "x": 46.7, "y": 118.3, "t": "ASDW"},
      {"kind": "title", "g": "ASPP", "x": 46.7, "y": 118.3, "t": "ASPP"},
      {"kind": "letter", "g": "SHAM", "x": -16.9, "y": 112.6, "t": "D"},
      {"kind": "ylab", "g": "SHAM", "x": -13.0, "y": 19.2, "t": "RORγt"},
      {"kind": "arrow", "g": "SHAM", "x": -13.0, "x2": -13.0, "y": 50.6, "y2": 79.3},
      {"kind": "headup", "g": "SHAM", "x": -13.0, "y": 79.3},
      {"kind": "xlab", "g": "SHAM", "x": 1.2, "y": -12.8, "t": "TCR-γδ"},
      {"kind": "arrow", "g": "SHAM", "x": 33.1, "x2": 67.0, "y": -12.8, "y2": -12.8},
      {"kind": "headright", "g": "SHAM", "x": 67.0, "y": -12.8},
      {"kind": "blob", "g": "SHAM", "x": 32, "x2": 50.5, "y": 22, "y2": 69.5, "d": 0.08},
      {"kind": "blob", "g": "SHAM", "x": 33, "x2": 42, "y": 50, "y2": 66, "d": 0.14},
      {"kind": "blob", "g": "SHAM", "x": 46, "x2": 57, "y": 24, "y2": 36, "d": 0.08},
      {"kind": "blob", "g": "SHAM", "x": 32.4, "x2": 69.6, "y": 12.3, "y2": 27, "d": 0.12},
      {"kind": "blob", "g": "SHAM", "x": 33, "x2": 66, "y": 14, "y2": 25, "d": 0.35},
      {"kind": "blob", "g": "SHAM", "x": 33.5, "x2": 58, "y": 15.5, "y2": 24, "d": 0.6},
      {"kind": "blob", "g": "SHAM", "x": 34, "x2": 47, "y": 17, "y2": 23.5, "d": 0.85},
      {"kind": "blob", "g": "SHAM", "x": 34.5, "x2": 41, "y": 18.5, "y2": 22.5, "d": 1},
      {"kind": "blob", "g": "MCAO", "x": 33, "x2": 47.5, "y": 25, "y2": 68.5, "d": 0.08},
      {"kind": "blob", "g": "MCAO", "x": 49, "x2": 60, "y": 28, "y2": 38, "d": 0.08},
      {"kind": "blob", "g": "MCAO", "x": 32.4, "x2": 74.7, "y": 14.7, "y2": 31.5, "d": 0.12},
      {"kind": "blob", "g": "MCAO", "x": 33, "x2": 66, "y": 16, "y2": 30, "d": 0.35},
      {"kind": "blob", "g": "MCAO", "x": 34, "x2": 44, "y": 24, "y2": 37, "d": 0.5},
      {"kind": "blob", "g": "MCAO", "x": 34, "x2": 58, "y": 17.5, "y2": 28, "d": 0.6},
      {"kind": "blob", "g": "MCAO", "x": 35, "x2": 53, "y": 18.5, "y2": 23.5, "d": 0.85},
      {"kind": "blob", "g": "MCAO", "x": 35.5, "x2": 44, "y": 19.5, "y2": 22.5, "d": 1},
      {"kind": "blob", "g": "ASDW", "x": 24.5, "x2": 40, "y": 25, "y2": 53, "d": 0.08},
      {"kind": "blob", "g": "ASDW", "x": 26, "x2": 35, "y": 40, "y2": 50, "d": 0.14},
      {"kind": "blob", "g": "ASDW", "x": 23.2, "x2": 51.2, "y": 13.7, "y2": 29.5, "d": 0.12},
      {"kind": "blob", "g": "ASDW", "x": 24, "x2": 46, "y": 15, "y2": 28, "d": 0.35},
      {"kind": "blob", "g": "ASDW", "x": 25, "x2": 40, "y": 17, "y2": 26, "d": 0.6},
      {"kind": "blob", "g": "ASDW", "x": 25.5, "x2": 37, "y": 19, "y2": 25, "d": 0.85},
      {"kind": "blob", "g": "ASDW", "x": 26, "x2": 31, "y": 20.5, "y2": 24, "d": 1},
      {"kind": "blob", "g": "ASDW", "x": 32, "x2": 36, "y": 20.5, "y2": 24, "d": 1},
      {"kind": "blob", "g": "ASPP", "x": 31, "x2": 66, "y": 25, "y2": 64.5, "d": 0.08},
      {"kind": "blob", "g": "ASPP", "x": 33.5, "x2": 39, "y": 55, "y2": 74, "d": 0.08},
      {"kind": "blob", "g": "ASPP", "x": 35.5, "x2": 39.5, "y": 78.5, "y2": 83.5, "d": 0.1},
      {"kind": "blob", "g": "ASPP", "x": 33, "x2": 62, "y": 40, "y2": 62, "d": 0.2},
      {"kind": "blob", "g": "ASPP", "x": 36, "x2": 41, "y": 54, "y2": 61, "d": 0.4},
      {"kind": "blob", "g": "ASPP", "x": 44, "x2": 49.5, "y": 54, "y2": 61, "d": 0.4},
      {"kind": "blob", "g": "ASPP", "x": 54, "x2": 59, "y": 53.5, "y2": 60.5, "d": 0.4},
      {"kind": "blob", "g": "ASPP", "x": 30.7, "x2": 73.9, "y": 16.5, "y2": 32, "d": 0.12},
      {"kind": "blob", "g": "ASPP", "x": 31.5, "x2": 70, "y": 18, "y2": 31, "d": 0.4},
      {"kind": "blob", "g": "ASPP", "x": 32, "x2": 66, "y": 19.5, "y2": 29.5, "d": 0.65},
      {"kind": "blob", "g": "ASPP", "x": 34, "x2": 43, "y": 21.5, "y2": 27.5, "d": 0.85},
      {"kind": "blob", "g": "ASPP", "x": 52, "x2": 61, "y": 21.5, "y2": 27.5, "d": 0.85},
      {"kind": "blob", "g": "ASPP", "x": 35.5, "x2": 41, "y": 22.5, "y2": 26.5, "d": 1}
    ]
  },
  "columns": 5,
  "align": "none",
  "bounds": "flush",
  "spacing": {"row": 328, "column": 0},
  "resolve": {"scale": {"color": "independent"}, "legend": {"color": "independent"}},
  "concat": [
    {"width": 642, "height": 654, "data": {"name": "flowA"}, "transform": [{"filter": "datum.g == 'SHAM'"}],
     "encoding": {"x": {"field": "x", "type": "quantitative", "scale": {"domain": [0, 102.15], "nice": false, "zero": false}, "axis": null},
                  "y": {"field": "y", "type": "quantitative", "scale": {"domain": [3.14, 105.97], "nice": false, "zero": false}, "axis": null}},
     "layer": [
       {"transform": [{"filter": "datum.kind == 'blob'"}], "mark": {"type": "rect", "cornerRadius": 41}, "encoding": {"x2": {"field": "x2"}, "y2": {"field": "y2"}, "color": {"field": "d", "type": "quantitative", "scale": {"domain": [0.1, 0.35, 0.6, 0.8, 1], "range": ["#4848ff", "#19c3ff", "#3cf03c", "#f5f000", "#ff2d00"]}, "legend": null}}},
       {"transform": [{"filter": "datum.kind == 'dot'"}], "mark": {"type": "point", "shape": "square", "filled": true, "size": 28, "color": "#1a1aff", "opacity": 1}},
       {"transform": [{"filter": "datum.kind == 'gate'"}], "mark": {"type": "rect", "fill": "transparent", "stroke": "black", "strokeWidth": 4}, "encoding": {"x2": {"field": "x2"}, "y2": {"field": "y2"}}},
       {"transform": [{"filter": "datum.kind == 'frame'"}], "mark": {"type": "rect", "fill": "transparent", "stroke": "black", "strokeWidth": 3}, "encoding": {"x2": {"field": "x2"}, "y2": {"field": "y2"}}},
       {"transform": [{"filter": "datum.kind == 'pct'"}], "mark": {"type": "text", "font": "Liberation Sans", "fontSize": 58, "baseline": "middle", "align": "center", "color": "black"}, "encoding": {"text": {"field": "t"}}},
       {"transform": [{"filter": "datum.kind == 'title'"}], "mark": {"type": "text", "font": "DejaVu Sans", "fontWeight": "bold", "fontSize": 58, "baseline": "middle", "align": "center", "color": "black"}, "encoding": {"text": {"field": "t"}}},
       {"transform": [{"filter": "datum.kind == 'letter'"}], "mark": {"type": "text", "font": "Liberation Sans", "fontWeight": "bold", "fontSize": 70, "baseline": "alphabetic", "align": "center", "color": "black"}, "encoding": {"text": {"field": "t"}}},
       {"transform": [{"filter": "datum.kind == 'ylab'"}], "mark": {"type": "text", "font": "Liberation Sans", "fontWeight": "bold", "fontSize": 52, "baseline": "middle", "align": "center", "angle": 270, "color": "black"}, "encoding": {"text": {"field": "t"}}},
       {"transform": [{"filter": "datum.kind == 'xlab'"}], "mark": {"type": "text", "font": "Liberation Sans", "fontWeight": "bold", "fontSize": 50, "baseline": "middle", "align": "left", "color": "black"}, "encoding": {"text": {"field": "t"}}},
       {"transform": [{"filter": "datum.kind == 'arrow'"}], "mark": {"type": "rule", "strokeWidth": 3, "color": "black"}, "encoding": {"x2": {"field": "x2"}, "y2": {"field": "y2"}}},
       {"transform": [{"filter": "datum.kind == 'headup' || datum.kind == 'headright'"}], "mark": {"type": "point", "filled": true, "size": 1200, "color": "black", "opacity": 1}, "encoding": {"shape": {"field": "kind", "type": "nominal", "scale": {"domain": ["headup", "headright"], "range": ["M0,-1L0.4,1L-0.4,1Z", "M1,0L-1,0.4L-1,-0.4Z"]}, "legend": null}}}
     ]},
    {"width": 642, "height": 654, "data": {"name": "flowA"}, "transform": [{"filter": "datum.g == 'MCAO'"}],
     "encoding": {"x": {"field": "x", "type": "quantitative", "scale": {"domain": [-0.14, 102.01], "nice": false, "zero": false}, "axis": null},
                  "y": {"field": "y", "type": "quantitative", "scale": {"domain": [3.14, 105.97], "nice": false, "zero": false}, "axis": null}},
     "layer": [
       {"transform": [{"filter": "datum.kind == 'blob'"}], "mark": {"type": "rect", "cornerRadius": 41}, "encoding": {"x2": {"field": "x2"}, "y2": {"field": "y2"}, "color": {"field": "d", "type": "quantitative", "scale": {"domain": [0.1, 0.35, 0.6, 0.8, 1], "range": ["#4848ff", "#19c3ff", "#3cf03c", "#f5f000", "#ff2d00"]}, "legend": null}}},
       {"transform": [{"filter": "datum.kind == 'dot'"}], "mark": {"type": "point", "shape": "square", "filled": true, "size": 28, "color": "#1a1aff", "opacity": 1}},
       {"transform": [{"filter": "datum.kind == 'gate'"}], "mark": {"type": "rect", "fill": "transparent", "stroke": "black", "strokeWidth": 4}, "encoding": {"x2": {"field": "x2"}, "y2": {"field": "y2"}}},
       {"transform": [{"filter": "datum.kind == 'frame'"}], "mark": {"type": "rect", "fill": "transparent", "stroke": "black", "strokeWidth": 3}, "encoding": {"x2": {"field": "x2"}, "y2": {"field": "y2"}}},
       {"transform": [{"filter": "datum.kind == 'pct'"}], "mark": {"type": "text", "font": "Liberation Sans", "fontSize": 58, "baseline": "middle", "align": "center", "color": "black"}, "encoding": {"text": {"field": "t"}}},
       {"transform": [{"filter": "datum.kind == 'title'"}], "mark": {"type": "text", "font": "DejaVu Sans", "fontWeight": "bold", "fontSize": 58, "baseline": "middle", "align": "center", "color": "black"}, "encoding": {"text": {"field": "t"}}}
     ]},
    {"width": 643, "height": 654, "data": {"name": "flowA"}, "transform": [{"filter": "datum.g == 'ASDW'"}],
     "encoding": {"x": {"field": "x", "type": "quantitative", "scale": {"domain": [-0.29, 102.0], "nice": false, "zero": false}, "axis": null},
                  "y": {"field": "y", "type": "quantitative", "scale": {"domain": [3.14, 105.97], "nice": false, "zero": false}, "axis": null}},
     "layer": [
       {"transform": [{"filter": "datum.kind == 'blob'"}], "mark": {"type": "rect", "cornerRadius": 41}, "encoding": {"x2": {"field": "x2"}, "y2": {"field": "y2"}, "color": {"field": "d", "type": "quantitative", "scale": {"domain": [0.1, 0.35, 0.6, 0.8, 1], "range": ["#4848ff", "#19c3ff", "#3cf03c", "#f5f000", "#ff2d00"]}, "legend": null}}},
       {"transform": [{"filter": "datum.kind == 'dot'"}], "mark": {"type": "point", "shape": "square", "filled": true, "size": 28, "color": "#1a1aff", "opacity": 1}},
       {"transform": [{"filter": "datum.kind == 'gate'"}], "mark": {"type": "rect", "fill": "transparent", "stroke": "black", "strokeWidth": 4}, "encoding": {"x2": {"field": "x2"}, "y2": {"field": "y2"}}},
       {"transform": [{"filter": "datum.kind == 'frame'"}], "mark": {"type": "rect", "fill": "transparent", "stroke": "black", "strokeWidth": 3}, "encoding": {"x2": {"field": "x2"}, "y2": {"field": "y2"}}},
       {"transform": [{"filter": "datum.kind == 'pct'"}], "mark": {"type": "text", "font": "Liberation Sans", "fontSize": 58, "baseline": "middle", "align": "center", "color": "black"}, "encoding": {"text": {"field": "t"}}},
       {"transform": [{"filter": "datum.kind == 'title'"}], "mark": {"type": "text", "font": "DejaVu Sans", "fontWeight": "bold", "fontSize": 58, "baseline": "middle", "align": "center", "color": "black"}, "encoding": {"text": {"field": "t"}}}
     ]},
    {"width": 909, "height": 654, "data": {"name": "flowA"}, "transform": [{"filter": "datum.g == 'ASPP'"}],
     "encoding": {"x": {"field": "x", "type": "quantitative", "scale": {"domain": [-0.29, 144.41], "nice": false, "zero": false}, "axis": null},
                  "y": {"field": "y", "type": "quantitative", "scale": {"domain": [3.14, 105.97], "nice": false, "zero": false}, "axis": null}},
     "layer": [
       {"transform": [{"filter": "datum.kind == 'blob'"}], "mark": {"type": "rect", "cornerRadius": 41}, "encoding": {"x2": {"field": "x2"}, "y2": {"field": "y2"}, "color": {"field": "d", "type": "quantitative", "scale": {"domain": [0.1, 0.35, 0.6, 0.8, 1], "range": ["#4848ff", "#19c3ff", "#3cf03c", "#f5f000", "#ff2d00"]}, "legend": null}}},
       {"transform": [{"filter": "datum.kind == 'dot'"}], "mark": {"type": "point", "shape": "square", "filled": true, "size": 28, "color": "#1a1aff", "opacity": 1}},
       {"transform": [{"filter": "datum.kind == 'gate'"}], "mark": {"type": "rect", "fill": "transparent", "stroke": "black", "strokeWidth": 4}, "encoding": {"x2": {"field": "x2"}, "y2": {"field": "y2"}}},
       {"transform": [{"filter": "datum.kind == 'frame'"}], "mark": {"type": "rect", "fill": "transparent", "stroke": "black", "strokeWidth": 3}, "encoding": {"x2": {"field": "x2"}, "y2": {"field": "y2"}}},
       {"transform": [{"filter": "datum.kind == 'pct'"}], "mark": {"type": "text", "font": "Liberation Sans", "fontSize": 58, "baseline": "middle", "align": "center", "color": "black"}, "encoding": {"text": {"field": "t"}}},
       {"transform": [{"filter": "datum.kind == 'title'"}], "mark": {"type": "text", "font": "DejaVu Sans", "fontWeight": "bold", "fontSize": 58, "baseline": "middle", "align": "center", "color": "black"}, "encoding": {"text": {"field": "t"}}}
     ]},
    {"width": 927, "height": 654,
     "encoding": {"x": {"field": "group", "type": "nominal", "scale": {"type": "band", "domain": ["SHAM", "MCAO", "ASDW", "ASPP"], "paddingInner": 0.3584, "paddingOuter": 0.458, "align": 0.386}, "axis": null}},
     "layer": [
       {"data": {"name": "bars"}, "transform": [{"filter": "datum.row == 'A'"}], "mark": {"type": "bar", "stroke": "black", "strokeWidth": 6},
        "encoding": {"y": {"field": "mean", "type": "quantitative", "title": "CD4⁺ IL-17A⁺ (%)", "scale": {"domain": [0, 10], "nice": false, "zero": false}, "axis": {"values": [0, 2, 4, 6, 8, 10], "format": "d", "domain": false, "titlePadding": 13}},
          "color": {"field": "group", "type": "nominal", "scale": {"domain": ["SHAM", "MCAO", "ASDW", "ASPP"], "range": ["#ffffff", "#383838", "#b3b3b3", "#000000"]},
            "legend": {"title": null, "orient": "none", "legendX": 891, "legendY": -139, "symbolType": "M-1,-0.65L1,-0.65L1,0.65L-1,0.65Z", "symbolSize": 2362, "symbolStrokeColor": "black", "symbolStrokeWidth": 4, "labelFont": "DejaVu Sans", "labelFontWeight": "bold", "labelFontSize": 40, "labelColor": "black", "labelOffset": 45, "rowPadding": 20, "padding": 0}}}},
       {"data": {"name": "bars"}, "transform": [{"filter": "datum.row == 'A'"}], "mark": {"type": "rule", "strokeWidth": 5, "color": "black"},
        "encoding": {"y": {"field": "mean", "type": "quantitative", "title": "CD4⁺ IL-17A⁺ (%)"}, "y2": {"field": "upper"}}},
       {"data": {"name": "bars"}, "transform": [{"filter": "datum.row == 'A'"}], "mark": {"type": "tick", "size": 66, "thickness": 5, "color": "black", "opacity": 1},
        "encoding": {"y": {"field": "upper", "type": "quantitative", "title": "CD4⁺ IL-17A⁺ (%)"}}},
       {"data": {"name": "axes"}, "transform": [{"filter": "datum.row == 'A'"}], "mark": {"type": "rule", "strokeWidth": 7, "color": "black", "strokeCap": "square"},
        "encoding": {"x": {"field": "xs", "type": "nominal", "bandPosition": -0.552, "axis": null}, "y": {"field": "y0", "type": "quantitative", "title": "CD4⁺ IL-17A⁺ (%)"}, "y2": {"field": "y1"}}},
       {"data": {"name": "axes"}, "transform": [{"filter": "datum.row == 'A'"}], "mark": {"type": "rule", "strokeWidth": 7, "color": "black", "strokeCap": "square"},
        "encoding": {"x": {"field": "xs", "type": "nominal", "bandPosition": -0.552, "axis": null}, "x2": {"field": "xe", "bandPosition": 1.552}, "y": {"field": "y0", "type": "quantitative", "title": "CD4⁺ IL-17A⁺ (%)"}}},
       {"data": {"name": "sig"}, "transform": [{"filter": "datum.row == 'A'"}], "mark": {"type": "rule", "strokeWidth": 3, "color": "#222222"},
        "encoding": {"x": {"field": "from", "type": "nominal", "bandPosition": 0.62, "axis": null}, "x2": {"field": "to", "bandPosition": 0.46}, "y": {"field": "y", "type": "quantitative", "title": "CD4⁺ IL-17A⁺ (%)"}}},
       {"data": {"name": "sig"}, "transform": [{"filter": "datum.row == 'A' && datum.kind == 'wide'"}], "mark": {"type": "text", "font": "DejaVu Sans", "fontWeight": "bold", "fontSize": 54, "baseline": "alphabetic", "align": "center", "dy": 3, "color": "black"},
        "encoding": {"x": {"field": "at", "type": "nominal", "bandPosition": 0.56, "axis": null}, "y": {"field": "y", "type": "quantitative", "title": "CD4⁺ IL-17A⁺ (%)"}, "text": {"field": "label"}}},
       {"data": {"name": "sig"}, "transform": [{"filter": "datum.row == 'A' && datum.kind == 'narrow'"}], "mark": {"type": "text", "font": "DejaVu Sans", "fontWeight": "bold", "fontSize": 54, "baseline": "alphabetic", "align": "center", "dy": 3, "color": "black"},
        "encoding": {"x": {"field": "at", "type": "nominal", "bandPosition": 1.29, "axis": null}, "y": {"field": "y", "type": "quantitative", "title": "CD4⁺ IL-17A⁺ (%)"}, "text": {"field": "label"}}}
     ]},

    {"width": 642, "height": 706, "data": {"name": "flowB"}, "transform": [{"filter": "datum.g == 'SHAM'"}],
     "encoding": {"x": {"field": "x", "type": "quantitative", "scale": {"domain": [-1.59, 101.44], "nice": false, "zero": false}, "axis": null},
                  "y": {"field": "y", "type": "quantitative", "scale": {"domain": [-6.92, 104.09], "nice": false, "zero": false}, "axis": null}},
     "layer": [
       {"transform": [{"filter": "datum.kind == 'blob'"}], "mark": {"type": "rect", "cornerRadius": 41}, "encoding": {"x2": {"field": "x2"}, "y2": {"field": "y2"}, "color": {"field": "d", "type": "quantitative", "scale": {"domain": [0.1, 0.35, 0.6, 0.8, 1], "range": ["#4848ff", "#19c3ff", "#3cf03c", "#f5f000", "#ff2d00"]}, "legend": null}}},
       {"transform": [{"filter": "datum.kind == 'dot'"}], "mark": {"type": "point", "shape": "square", "filled": true, "size": 28, "color": "#1a1aff", "opacity": 1}},
       {"transform": [{"filter": "datum.kind == 'gate'"}], "mark": {"type": "rect", "fill": "transparent", "stroke": "black", "strokeWidth": 4}, "encoding": {"x2": {"field": "x2"}, "y2": {"field": "y2"}}},
       {"transform": [{"filter": "datum.kind == 'frame'"}], "mark": {"type": "rect", "fill": "transparent", "stroke": "black", "strokeWidth": 3}, "encoding": {"x2": {"field": "x2"}, "y2": {"field": "y2"}}},
       {"transform": [{"filter": "datum.kind == 'pct'"}], "mark": {"type": "text", "font": "Liberation Sans", "fontSize": 58, "baseline": "middle", "align": "center", "color": "black"}, "encoding": {"text": {"field": "t"}}},
       {"transform": [{"filter": "datum.kind == 'title'"}], "mark": {"type": "text", "font": "DejaVu Sans", "fontWeight": "bold", "fontSize": 58, "baseline": "middle", "align": "center", "color": "black"}, "encoding": {"text": {"field": "t"}}},
       {"transform": [{"filter": "datum.kind == 'letter'"}], "mark": {"type": "text", "font": "Liberation Sans", "fontWeight": "bold", "fontSize": 70, "baseline": "alphabetic", "align": "center", "color": "black"}, "encoding": {"text": {"field": "t"}}},
       {"transform": [{"filter": "datum.kind == 'ylab'"}], "mark": {"type": "text", "font": "Liberation Sans", "fontWeight": "bold", "fontSize": 52, "baseline": "middle", "align": "center", "angle": 270, "color": "black"}, "encoding": {"text": {"field": "t"}}},
       {"transform": [{"filter": "datum.kind == 'xlab'"}], "mark": {"type": "text", "font": "Liberation Sans", "fontWeight": "bold", "fontSize": 50, "baseline": "middle", "align": "left", "color": "black"}, "encoding": {"text": {"field": "t"}}},
       {"transform": [{"filter": "datum.kind == 'arrow'"}], "mark": {"type": "rule", "strokeWidth": 3, "color": "black"}, "encoding": {"x2": {"field": "x2"}, "y2": {"field": "y2"}}},
       {"transform": [{"filter": "datum.kind == 'headup' || datum.kind == 'headright'"}], "mark": {"type": "point", "filled": true, "size": 1200, "color": "black", "opacity": 1}, "encoding": {"shape": {"field": "kind", "type": "nominal", "scale": {"domain": ["headup", "headright"], "range": ["M0,-1L0.4,1L-0.4,1Z", "M1,0L-1,0.4L-1,-0.4Z"]}, "legend": null}}}
     ]},
    {"width": 642, "height": 706, "data": {"name": "flowB"}, "transform": [{"filter": "datum.g == 'MCAO'"}],
     "encoding": {"x": {"field": "x", "type": "quantitative", "scale": {"domain": [-1.45, 101.58], "nice": false, "zero": false}, "axis": null},
                  "y": {"field": "y", "type": "quantitative", "scale": {"domain": [-6.92, 104.09], "nice": false, "zero": false}, "axis": null}},
     "layer": [
       {"transform": [{"filter": "datum.kind == 'blob'"}], "mark": {"type": "rect", "cornerRadius": 41}, "encoding": {"x2": {"field": "x2"}, "y2": {"field": "y2"}, "color": {"field": "d", "type": "quantitative", "scale": {"domain": [0.1, 0.35, 0.6, 0.8, 1], "range": ["#4848ff", "#19c3ff", "#3cf03c", "#f5f000", "#ff2d00"]}, "legend": null}}},
       {"transform": [{"filter": "datum.kind == 'dot'"}], "mark": {"type": "point", "shape": "square", "filled": true, "size": 28, "color": "#1a1aff", "opacity": 1}},
       {"transform": [{"filter": "datum.kind == 'gate'"}], "mark": {"type": "rect", "fill": "transparent", "stroke": "black", "strokeWidth": 4}, "encoding": {"x2": {"field": "x2"}, "y2": {"field": "y2"}}},
       {"transform": [{"filter": "datum.kind == 'frame'"}], "mark": {"type": "rect", "fill": "transparent", "stroke": "black", "strokeWidth": 3}, "encoding": {"x2": {"field": "x2"}, "y2": {"field": "y2"}}},
       {"transform": [{"filter": "datum.kind == 'pct'"}], "mark": {"type": "text", "font": "Liberation Sans", "fontSize": 58, "baseline": "middle", "align": "center", "color": "black"}, "encoding": {"text": {"field": "t"}}},
       {"transform": [{"filter": "datum.kind == 'title'"}], "mark": {"type": "text", "font": "DejaVu Sans", "fontWeight": "bold", "fontSize": 58, "baseline": "middle", "align": "center", "color": "black"}, "encoding": {"text": {"field": "t"}}}
     ]},
    {"width": 643, "height": 706, "data": {"name": "flowB"}, "transform": [{"filter": "datum.g == 'ASDW'"}],
     "encoding": {"x": {"field": "x", "type": "quantitative", "scale": {"domain": [-1.3, 101.88], "nice": false, "zero": false}, "axis": null},
                  "y": {"field": "y", "type": "quantitative", "scale": {"domain": [-6.92, 104.09], "nice": false, "zero": false}, "axis": null}},
     "layer": [
       {"transform": [{"filter": "datum.kind == 'blob'"}], "mark": {"type": "rect", "cornerRadius": 41}, "encoding": {"x2": {"field": "x2"}, "y2": {"field": "y2"}, "color": {"field": "d", "type": "quantitative", "scale": {"domain": [0.1, 0.35, 0.6, 0.8, 1], "range": ["#4848ff", "#19c3ff", "#3cf03c", "#f5f000", "#ff2d00"]}, "legend": null}}},
       {"transform": [{"filter": "datum.kind == 'dot'"}], "mark": {"type": "point", "shape": "square", "filled": true, "size": 28, "color": "#1a1aff", "opacity": 1}},
       {"transform": [{"filter": "datum.kind == 'gate'"}], "mark": {"type": "rect", "fill": "transparent", "stroke": "black", "strokeWidth": 4}, "encoding": {"x2": {"field": "x2"}, "y2": {"field": "y2"}}},
       {"transform": [{"filter": "datum.kind == 'frame'"}], "mark": {"type": "rect", "fill": "transparent", "stroke": "black", "strokeWidth": 3}, "encoding": {"x2": {"field": "x2"}, "y2": {"field": "y2"}}},
       {"transform": [{"filter": "datum.kind == 'pct'"}], "mark": {"type": "text", "font": "Liberation Sans", "fontSize": 58, "baseline": "middle", "align": "center", "color": "black"}, "encoding": {"text": {"field": "t"}}},
       {"transform": [{"filter": "datum.kind == 'title'"}], "mark": {"type": "text", "font": "DejaVu Sans", "fontWeight": "bold", "fontSize": 58, "baseline": "middle", "align": "center", "color": "black"}, "encoding": {"text": {"field": "t"}}}
     ]},
    {"width": 909, "height": 706, "data": {"name": "flowB"}, "transform": [{"filter": "datum.g == 'ASPP'"}],
     "encoding": {"x": {"field": "x", "type": "quantitative", "scale": {"domain": [-1.01, 144.94], "nice": false, "zero": false}, "axis": null},
                  "y": {"field": "y", "type": "quantitative", "scale": {"domain": [-6.92, 104.09], "nice": false, "zero": false}, "axis": null}},
     "layer": [
       {"transform": [{"filter": "datum.kind == 'blob'"}], "mark": {"type": "rect", "cornerRadius": 41}, "encoding": {"x2": {"field": "x2"}, "y2": {"field": "y2"}, "color": {"field": "d", "type": "quantitative", "scale": {"domain": [0.1, 0.35, 0.6, 0.8, 1], "range": ["#4848ff", "#19c3ff", "#3cf03c", "#f5f000", "#ff2d00"]}, "legend": null}}},
       {"transform": [{"filter": "datum.kind == 'dot'"}], "mark": {"type": "point", "shape": "square", "filled": true, "size": 28, "color": "#1a1aff", "opacity": 1}},
       {"transform": [{"filter": "datum.kind == 'gate'"}], "mark": {"type": "rect", "fill": "transparent", "stroke": "black", "strokeWidth": 4}, "encoding": {"x2": {"field": "x2"}, "y2": {"field": "y2"}}},
       {"transform": [{"filter": "datum.kind == 'frame'"}], "mark": {"type": "rect", "fill": "transparent", "stroke": "black", "strokeWidth": 3}, "encoding": {"x2": {"field": "x2"}, "y2": {"field": "y2"}}},
       {"transform": [{"filter": "datum.kind == 'pct'"}], "mark": {"type": "text", "font": "Liberation Sans", "fontSize": 58, "baseline": "middle", "align": "center", "color": "black"}, "encoding": {"text": {"field": "t"}}},
       {"transform": [{"filter": "datum.kind == 'title'"}], "mark": {"type": "text", "font": "DejaVu Sans", "fontWeight": "bold", "fontSize": 58, "baseline": "middle", "align": "center", "color": "black"}, "encoding": {"text": {"field": "t"}}}
     ]},
    {"width": 927, "height": 706,
     "encoding": {"x": {"field": "group", "type": "nominal", "scale": {"type": "band", "domain": ["SHAM", "MCAO", "ASDW", "ASPP"], "paddingInner": 0.3606, "paddingOuter": 0.467, "align": 0.4325}, "axis": null}},
     "layer": [
       {"data": {"name": "bars"}, "transform": [{"filter": "datum.row == 'B'"}], "mark": {"type": "bar", "stroke": "black", "strokeWidth": 6},
        "encoding": {"y": {"field": "mean", "type": "quantitative", "title": "TCR-γδ⁺ IL-17A⁺ (%)", "scale": {"domain": [-0.795, 10], "nice": false, "zero": false}, "axis": {"values": [0, 2, 4, 6, 8, 10], "format": "d", "domain": false, "offset": -13.5, "titlePadding": 26}},
          "color": {"field": "group", "type": "nominal", "scale": {"domain": ["SHAM", "MCAO", "ASDW", "ASPP"], "range": ["#ffffff", "#383838", "#b3b3b3", "#000000"]},
            "legend": {"title": null, "orient": "none", "legendX": 880, "legendY": -163, "symbolType": "M-1,-0.65L1,-0.65L1,0.65L-1,0.65Z", "symbolSize": 2362, "symbolStrokeColor": "black", "symbolStrokeWidth": 4, "labelFont": "DejaVu Sans", "labelFontWeight": "bold", "labelFontSize": 40, "labelColor": "black", "labelOffset": 45, "rowPadding": 21, "padding": 0}}}},
       {"data": {"name": "bars"}, "transform": [{"filter": "datum.row == 'B'"}], "mark": {"type": "rule", "strokeWidth": 5, "color": "black"},
        "encoding": {"y": {"field": "mean", "type": "quantitative", "title": "TCR-γδ⁺ IL-17A⁺ (%)"}, "y2": {"field": "upper"}}},
       {"data": {"name": "bars"}, "transform": [{"filter": "datum.row == 'B'"}], "mark": {"type": "tick", "size": 65, "thickness": 5, "color": "black", "opacity": 1},
        "encoding": {"y": {"field": "upper", "type": "quantitative", "title": "TCR-γδ⁺ IL-17A⁺ (%)"}}},
       {"data": {"name": "axes"}, "transform": [{"filter": "datum.row == 'B'"}], "mark": {"type": "rule", "strokeWidth": 7, "color": "black", "strokeCap": "square"},
        "encoding": {"x": {"field": "xs", "type": "nominal", "bandPosition": -0.528, "axis": null}, "y": {"field": "y0", "type": "quantitative", "title": "TCR-γδ⁺ IL-17A⁺ (%)"}, "y2": {"field": "y1"}}},
       {"data": {"name": "axes"}, "transform": [{"filter": "datum.row == 'B'"}], "mark": {"type": "rule", "strokeWidth": 7, "color": "black", "strokeCap": "square"},
        "encoding": {"x": {"field": "xs", "type": "nominal", "bandPosition": -0.528, "axis": null}, "x2": {"field": "xe", "bandPosition": 1.5375}, "y": {"field": "y0", "type": "quantitative", "title": "TCR-γδ⁺ IL-17A⁺ (%)"}}},
       {"data": {"name": "sig"}, "transform": [{"filter": "datum.row == 'B'"}], "mark": {"type": "rule", "strokeWidth": 3, "color": "#222222"},
        "encoding": {"x": {"field": "from", "type": "nominal", "bandPosition": 0.57, "axis": null}, "x2": {"field": "to", "bandPosition": 0.44}, "y": {"field": "y", "type": "quantitative", "title": "TCR-γδ⁺ IL-17A⁺ (%)"}}},
       {"data": {"name": "sig"}, "transform": [{"filter": "datum.row == 'B' && datum.kind == 'wide'"}], "mark": {"type": "text", "font": "DejaVu Sans", "fontWeight": "bold", "fontSize": 54, "baseline": "alphabetic", "align": "center", "dy": 3, "color": "black"},
        "encoding": {"x": {"field": "at", "type": "nominal", "bandPosition": 0.5, "axis": null}, "y": {"field": "y", "type": "quantitative", "title": "TCR-γδ⁺ IL-17A⁺ (%)"}, "text": {"field": "label"}}},
       {"data": {"name": "sig"}, "transform": [{"filter": "datum.row == 'B' && datum.kind == 'narrow'"}], "mark": {"type": "text", "font": "DejaVu Sans", "fontWeight": "bold", "fontSize": 54, "baseline": "alphabetic", "align": "center", "dy": 3, "color": "black"},
        "encoding": {"x": {"field": "at", "type": "nominal", "bandPosition": 1.28, "axis": null}, "y": {"field": "y", "type": "quantitative", "title": "TCR-γδ⁺ IL-17A⁺ (%)"}, "text": {"field": "label"}}}
     ]},

    {"width": 642, "height": 729, "data": {"name": "flowC"}, "transform": [{"filter": "datum.g == 'SHAM'"}],
     "encoding": {"x": {"field": "x", "type": "quantitative", "scale": {"domain": [-2.77, 101.17], "nice": false, "zero": false}, "axis": null},
                  "y": {"field": "y", "type": "quantitative", "scale": {"domain": [-6.41, 102.24], "nice": false, "zero": false}, "axis": null}},
     "layer": [
       {"transform": [{"filter": "datum.kind == 'blob'"}], "mark": {"type": "rect", "cornerRadius": 41}, "encoding": {"x2": {"field": "x2"}, "y2": {"field": "y2"}, "color": {"field": "d", "type": "quantitative", "scale": {"domain": [0, 1], "range": ["#f4f4f4", "#000000"]}, "legend": null}}},
       {"transform": [{"filter": "datum.kind == 'gate'"}], "mark": {"type": "rect", "fill": "transparent", "stroke": "black", "strokeWidth": 4}, "encoding": {"x2": {"field": "x2"}, "y2": {"field": "y2"}}},
       {"transform": [{"filter": "datum.kind == 'frame'"}], "mark": {"type": "rect", "fill": "transparent", "stroke": "black", "strokeWidth": 3}, "encoding": {"x2": {"field": "x2"}, "y2": {"field": "y2"}}},
       {"transform": [{"filter": "datum.kind == 'pct'"}], "mark": {"type": "text", "font": "Liberation Sans", "fontSize": 58, "baseline": "middle", "align": "center", "color": "black"}, "encoding": {"text": {"field": "t"}}},
       {"transform": [{"filter": "datum.kind == 'title'"}], "mark": {"type": "text", "font": "DejaVu Sans", "fontWeight": "bold", "fontSize": 58, "baseline": "middle", "align": "center", "color": "black"}, "encoding": {"text": {"field": "t"}}},
       {"transform": [{"filter": "datum.kind == 'letter'"}], "mark": {"type": "text", "font": "Liberation Sans", "fontWeight": "bold", "fontSize": 70, "baseline": "alphabetic", "align": "center", "color": "black"}, "encoding": {"text": {"field": "t"}}},
       {"transform": [{"filter": "datum.kind == 'ylab'"}], "mark": {"type": "text", "font": "Liberation Sans", "fontWeight": "bold", "fontSize": 52, "baseline": "middle", "align": "center", "angle": 270, "color": "black"}, "encoding": {"text": {"field": "t"}}},
       {"transform": [{"filter": "datum.kind == 'xlab'"}], "mark": {"type": "text", "font": "Liberation Sans", "fontWeight": "bold", "fontSize": 50, "baseline": "middle", "align": "left", "color": "black"}, "encoding": {"text": {"field": "t"}}},
       {"transform": [{"filter": "datum.kind == 'arrow'"}], "mark": {"type": "rule", "strokeWidth": 3, "color": "black"}, "encoding": {"x2": {"field": "x2"}, "y2": {"field": "y2"}}},
       {"transform": [{"filter": "datum.kind == 'headup' || datum.kind == 'headright'"}], "mark": {"type": "point", "filled": true, "size": 1200, "color": "black", "opacity": 1}, "encoding": {"shape": {"field": "kind", "type": "nominal", "scale": {"domain": ["headup", "headright"], "range": ["M0,-1L0.4,1L-0.4,1Z", "M1,0L-1,0.4L-1,-0.4Z"]}, "legend": null}}}
     ]},
    {"width": 642, "height": 729, "data": {"name": "flowC"}, "transform": [{"filter": "datum.g == 'MCAO'"}],
     "encoding": {"x": {"field": "x", "type": "quantitative", "scale": {"domain": [-2.77, 101.17], "nice": false, "zero": false}, "axis": null},
                  "y": {"field": "y", "type": "quantitative", "scale": {"domain": [-6.41, 102.24], "nice": false, "zero": false}, "axis": null}},
     "layer": [
       {"transform": [{"filter": "datum.kind == 'blob'"}], "mark": {"type": "rect", "cornerRadius": 41}, "encoding": {"x2": {"field": "x2"}, "y2": {"field": "y2"}, "color": {"field": "d", "type": "quantitative", "scale": {"domain": [0, 1], "range": ["#f4f4f4", "#000000"]}, "legend": null}}},
       {"transform": [{"filter": "datum.kind == 'gate'"}], "mark": {"type": "rect", "fill": "transparent", "stroke": "black", "strokeWidth": 4}, "encoding": {"x2": {"field": "x2"}, "y2": {"field": "y2"}}},
       {"transform": [{"filter": "datum.kind == 'frame'"}], "mark": {"type": "rect", "fill": "transparent", "stroke": "black", "strokeWidth": 3}, "encoding": {"x2": {"field": "x2"}, "y2": {"field": "y2"}}},
       {"transform": [{"filter": "datum.kind == 'pct'"}], "mark": {"type": "text", "font": "Liberation Sans", "fontSize": 58, "baseline": "middle", "align": "center", "color": "black"}, "encoding": {"text": {"field": "t"}}},
       {"transform": [{"filter": "datum.kind == 'title'"}], "mark": {"type": "text", "font": "DejaVu Sans", "fontWeight": "bold", "fontSize": 58, "baseline": "middle", "align": "center", "color": "black"}, "encoding": {"text": {"field": "t"}}}
     ]},
    {"width": 643, "height": 729, "data": {"name": "flowC"}, "transform": [{"filter": "datum.g == 'ASDW'"}],
     "encoding": {"x": {"field": "x", "type": "quantitative", "scale": {"domain": [-2.77, 101.31], "nice": false, "zero": false}, "axis": null},
                  "y": {"field": "y", "type": "quantitative", "scale": {"domain": [-6.41, 102.24], "nice": false, "zero": false}, "axis": null}},
     "layer": [
       {"transform": [{"filter": "datum.kind == 'blob'"}], "mark": {"type": "rect", "cornerRadius": 41}, "encoding": {"x2": {"field": "x2"}, "y2": {"field": "y2"}, "color": {"field": "d", "type": "quantitative", "scale": {"domain": [0, 1], "range": ["#f4f4f4", "#000000"]}, "legend": null}}},
       {"transform": [{"filter": "datum.kind == 'gate'"}], "mark": {"type": "rect", "fill": "transparent", "stroke": "black", "strokeWidth": 4}, "encoding": {"x2": {"field": "x2"}, "y2": {"field": "y2"}}},
       {"transform": [{"filter": "datum.kind == 'frame'"}], "mark": {"type": "rect", "fill": "transparent", "stroke": "black", "strokeWidth": 3}, "encoding": {"x2": {"field": "x2"}, "y2": {"field": "y2"}}},
       {"transform": [{"filter": "datum.kind == 'pct'"}], "mark": {"type": "text", "font": "Liberation Sans", "fontSize": 58, "baseline": "middle", "align": "center", "color": "black"}, "encoding": {"text": {"field": "t"}}},
       {"transform": [{"filter": "datum.kind == 'title'"}], "mark": {"type": "text", "font": "DejaVu Sans", "fontWeight": "bold", "fontSize": 58, "baseline": "middle", "align": "center", "color": "black"}, "encoding": {"text": {"field": "t"}}}
     ]},
    {"width": 909, "height": 729, "data": {"name": "flowC"}, "transform": [{"filter": "datum.g == 'ASPP'"}],
     "encoding": {"x": {"field": "x", "type": "quantitative", "scale": {"domain": [-2.62, 144.61], "nice": false, "zero": false}, "axis": null},
                  "y": {"field": "y", "type": "quantitative", "scale": {"domain": [-6.41, 102.24], "nice": false, "zero": false}, "axis": null}},
     "layer": [
       {"transform": [{"filter": "datum.kind == 'blob'"}], "mark": {"type": "rect", "cornerRadius": 41}, "encoding": {"x2": {"field": "x2"}, "y2": {"field": "y2"}, "color": {"field": "d", "type": "quantitative", "scale": {"domain": [0, 1], "range": ["#f4f4f4", "#000000"]}, "legend": null}}},
       {"transform": [{"filter": "datum.kind == 'gate'"}], "mark": {"type": "rect", "fill": "transparent", "stroke": "black", "strokeWidth": 4}, "encoding": {"x2": {"field": "x2"}, "y2": {"field": "y2"}}},
       {"transform": [{"filter": "datum.kind == 'frame'"}], "mark": {"type": "rect", "fill": "transparent", "stroke": "black", "strokeWidth": 3}, "encoding": {"x2": {"field": "x2"}, "y2": {"field": "y2"}}},
       {"transform": [{"filter": "datum.kind == 'pct'"}], "mark": {"type": "text", "font": "Liberation Sans", "fontSize": 58, "baseline": "middle", "align": "center", "color": "black"}, "encoding": {"text": {"field": "t"}}},
       {"transform": [{"filter": "datum.kind == 'title'"}], "mark": {"type": "text", "font": "DejaVu Sans", "fontWeight": "bold", "fontSize": 58, "baseline": "middle", "align": "center", "color": "black"}, "encoding": {"text": {"field": "t"}}}
     ]},
    {"width": 927, "height": 729,
     "encoding": {"x": {"field": "group", "type": "nominal", "scale": {"type": "band", "domain": ["SHAM", "MCAO", "ASDW", "ASPP"], "paddingInner": 0.357, "paddingOuter": 0.4375, "align": 0.536}, "axis": null}},
     "layer": [
       {"data": {"name": "bars"}, "transform": [{"filter": "datum.row == 'C'"}], "mark": {"type": "bar", "stroke": "black", "strokeWidth": 6},
        "encoding": {"y": {"field": "mean", "type": "quantitative", "title": "CD4⁺ RORγt⁺ (%)", "scale": {"domain": [-1.6, 20], "nice": false, "zero": false}, "axis": {"values": [0, 5, 10, 15, 20], "format": "d", "domain": false, "offset": -24.3, "titlePadding": 9}},
          "color": {"field": "group", "type": "nominal", "scale": {"domain": ["SHAM", "MCAO", "ASDW", "ASPP"], "range": ["#ffffff", "#383838", "#b3b3b3", "#000000"]},
            "legend": {"title": null, "orient": "none", "legendX": 907, "legendY": -146, "symbolType": "M-1,-0.65L1,-0.65L1,0.65L-1,0.65Z", "symbolSize": 2362, "symbolStrokeColor": "black", "symbolStrokeWidth": 4, "labelFont": "DejaVu Sans", "labelFontWeight": "bold", "labelFontSize": 40, "labelColor": "black", "labelOffset": 45, "rowPadding": 21, "padding": 0}}}},
       {"data": {"name": "bars"}, "transform": [{"filter": "datum.row == 'C'"}], "mark": {"type": "rule", "strokeWidth": 5, "color": "black"},
        "encoding": {"y": {"field": "mean", "type": "quantitative", "title": "CD4⁺ RORγt⁺ (%)"}, "y2": {"field": "upper"}}},
       {"data": {"name": "bars"}, "transform": [{"filter": "datum.row == 'C'"}], "mark": {"type": "tick", "size": 66, "thickness": 5, "color": "black", "opacity": 1},
        "encoding": {"y": {"field": "upper", "type": "quantitative", "title": "CD4⁺ RORγt⁺ (%)"}}},
       {"data": {"name": "axes"}, "transform": [{"filter": "datum.row == 'C'"}], "mark": {"type": "rule", "strokeWidth": 7, "color": "black", "strokeCap": "square"},
        "encoding": {"x": {"field": "xs", "type": "nominal", "bandPosition": -0.546, "axis": null}, "y": {"field": "y0", "type": "quantitative", "title": "CD4⁺ RORγt⁺ (%)"}, "y2": {"field": "y1"}}},
       {"data": {"name": "axes"}, "transform": [{"filter": "datum.row == 'C'"}], "mark": {"type": "rule", "strokeWidth": 7, "color": "black", "strokeCap": "square"},
        "encoding": {"x": {"field": "xs", "type": "nominal", "bandPosition": -0.546, "axis": null}, "x2": {"field": "xe", "bandPosition": 1.536}, "y": {"field": "y0", "type": "quantitative", "title": "CD4⁺ RORγt⁺ (%)"}}},
       {"data": {"name": "sig"}, "transform": [{"filter": "datum.row == 'C'"}], "mark": {"type": "rule", "strokeWidth": 3, "color": "#222222"},
        "encoding": {"x": {"field": "from", "type": "nominal", "bandPosition": 0.54, "axis": null}, "x2": {"field": "to", "bandPosition": 0.56}, "y": {"field": "y", "type": "quantitative", "title": "CD4⁺ RORγt⁺ (%)"}}},
       {"data": {"name": "sig"}, "transform": [{"filter": "datum.row == 'C' && datum.kind == 'wide'"}], "mark": {"type": "text", "font": "DejaVu Sans", "fontWeight": "bold", "fontSize": 54, "baseline": "alphabetic", "align": "center", "dy": 3, "color": "black"},
        "encoding": {"x": {"field": "at", "type": "nominal", "bandPosition": 0.54, "axis": null}, "y": {"field": "y", "type": "quantitative", "title": "CD4⁺ RORγt⁺ (%)"}, "text": {"field": "label"}}},
       {"data": {"name": "sig"}, "transform": [{"filter": "datum.row == 'C' && datum.kind == 'narrow'"}], "mark": {"type": "text", "font": "DejaVu Sans", "fontWeight": "bold", "fontSize": 54, "baseline": "alphabetic", "align": "center", "dy": 3, "color": "black"},
        "encoding": {"x": {"field": "at", "type": "nominal", "bandPosition": 1.32, "axis": null}, "y": {"field": "y", "type": "quantitative", "title": "CD4⁺ RORγt⁺ (%)"}, "text": {"field": "label"}}}
     ]},

    {"width": 642, "height": 666, "data": {"name": "flowD"}, "transform": [{"filter": "datum.g == 'SHAM'"}],
     "encoding": {"x": {"field": "x", "type": "quantitative", "scale": {"domain": [-4.09, 100.0], "nice": false, "zero": false}, "axis": null},
                  "y": {"field": "y", "type": "quantitative", "scale": {"domain": [-1.13, 106.46], "nice": false, "zero": false}, "axis": null}},
     "layer": [
       {"transform": [{"filter": "datum.kind == 'blob'"}], "mark": {"type": "rect", "cornerRadius": 41}, "encoding": {"x2": {"field": "x2"}, "y2": {"field": "y2"}, "color": {"field": "d", "type": "quantitative", "scale": {"domain": [0, 1], "range": ["#f4f4f4", "#000000"]}, "legend": null}}},
       {"transform": [{"filter": "datum.kind == 'gate'"}], "mark": {"type": "rect", "fill": "transparent", "stroke": "black", "strokeWidth": 4}, "encoding": {"x2": {"field": "x2"}, "y2": {"field": "y2"}}},
       {"transform": [{"filter": "datum.kind == 'frame'"}], "mark": {"type": "rect", "fill": "transparent", "stroke": "black", "strokeWidth": 3}, "encoding": {"x2": {"field": "x2"}, "y2": {"field": "y2"}}},
       {"transform": [{"filter": "datum.kind == 'pct'"}], "mark": {"type": "text", "font": "Liberation Sans", "fontSize": 58, "baseline": "middle", "align": "center", "color": "black"}, "encoding": {"text": {"field": "t"}}},
       {"transform": [{"filter": "datum.kind == 'title'"}], "mark": {"type": "text", "font": "DejaVu Sans", "fontWeight": "bold", "fontSize": 58, "baseline": "middle", "align": "center", "color": "black"}, "encoding": {"text": {"field": "t"}}},
       {"transform": [{"filter": "datum.kind == 'letter'"}], "mark": {"type": "text", "font": "Liberation Sans", "fontWeight": "bold", "fontSize": 70, "baseline": "alphabetic", "align": "center", "color": "black"}, "encoding": {"text": {"field": "t"}}},
       {"transform": [{"filter": "datum.kind == 'ylab'"}], "mark": {"type": "text", "font": "Liberation Sans", "fontWeight": "bold", "fontSize": 52, "baseline": "middle", "align": "center", "angle": 270, "color": "black"}, "encoding": {"text": {"field": "t"}}},
       {"transform": [{"filter": "datum.kind == 'xlab'"}], "mark": {"type": "text", "font": "Liberation Sans", "fontWeight": "bold", "fontSize": 50, "baseline": "middle", "align": "left", "color": "black"}, "encoding": {"text": {"field": "t"}}},
       {"transform": [{"filter": "datum.kind == 'arrow'"}], "mark": {"type": "rule", "strokeWidth": 3, "color": "black"}, "encoding": {"x2": {"field": "x2"}, "y2": {"field": "y2"}}},
       {"transform": [{"filter": "datum.kind == 'headup' || datum.kind == 'headright'"}], "mark": {"type": "point", "filled": true, "size": 1200, "color": "black", "opacity": 1}, "encoding": {"shape": {"field": "kind", "type": "nominal", "scale": {"domain": ["headup", "headright"], "range": ["M0,-1L0.4,1L-0.4,1Z", "M1,0L-1,0.4L-1,-0.4Z"]}, "legend": null}}}
     ]},
    {"width": 642, "height": 666, "data": {"name": "flowD"}, "transform": [{"filter": "datum.g == 'MCAO'"}],
     "encoding": {"x": {"field": "x", "type": "quantitative", "scale": {"domain": [-4.38, 99.71], "nice": false, "zero": false}, "axis": null},
                  "y": {"field": "y", "type": "quantitative", "scale": {"domain": [-1.13, 106.46], "nice": false, "zero": false}, "axis": null}},
     "layer": [
       {"transform": [{"filter": "datum.kind == 'blob'"}], "mark": {"type": "rect", "cornerRadius": 41}, "encoding": {"x2": {"field": "x2"}, "y2": {"field": "y2"}, "color": {"field": "d", "type": "quantitative", "scale": {"domain": [0, 1], "range": ["#f4f4f4", "#000000"]}, "legend": null}}},
       {"transform": [{"filter": "datum.kind == 'gate'"}], "mark": {"type": "rect", "fill": "transparent", "stroke": "black", "strokeWidth": 4}, "encoding": {"x2": {"field": "x2"}, "y2": {"field": "y2"}}},
       {"transform": [{"filter": "datum.kind == 'frame'"}], "mark": {"type": "rect", "fill": "transparent", "stroke": "black", "strokeWidth": 3}, "encoding": {"x2": {"field": "x2"}, "y2": {"field": "y2"}}},
       {"transform": [{"filter": "datum.kind == 'pct'"}], "mark": {"type": "text", "font": "Liberation Sans", "fontSize": 58, "baseline": "middle", "align": "center", "color": "black"}, "encoding": {"text": {"field": "t"}}},
       {"transform": [{"filter": "datum.kind == 'title'"}], "mark": {"type": "text", "font": "DejaVu Sans", "fontWeight": "bold", "fontSize": 58, "baseline": "middle", "align": "center", "color": "black"}, "encoding": {"text": {"field": "t"}}}
     ]},
    {"width": 643, "height": 666, "data": {"name": "flowD"}, "transform": [{"filter": "datum.g == 'ASDW'"}],
     "encoding": {"x": {"field": "x", "type": "quantitative", "scale": {"domain": [-4.67, 99.56], "nice": false, "zero": false}, "axis": null},
                  "y": {"field": "y", "type": "quantitative", "scale": {"domain": [-1.13, 106.46], "nice": false, "zero": false}, "axis": null}},
     "layer": [
       {"transform": [{"filter": "datum.kind == 'blob'"}], "mark": {"type": "rect", "cornerRadius": 41}, "encoding": {"x2": {"field": "x2"}, "y2": {"field": "y2"}, "color": {"field": "d", "type": "quantitative", "scale": {"domain": [0, 1], "range": ["#f4f4f4", "#000000"]}, "legend": null}}},
       {"transform": [{"filter": "datum.kind == 'gate'"}], "mark": {"type": "rect", "fill": "transparent", "stroke": "black", "strokeWidth": 4}, "encoding": {"x2": {"field": "x2"}, "y2": {"field": "y2"}}},
       {"transform": [{"filter": "datum.kind == 'frame'"}], "mark": {"type": "rect", "fill": "transparent", "stroke": "black", "strokeWidth": 3}, "encoding": {"x2": {"field": "x2"}, "y2": {"field": "y2"}}},
       {"transform": [{"filter": "datum.kind == 'pct'"}], "mark": {"type": "text", "font": "Liberation Sans", "fontSize": 58, "baseline": "middle", "align": "center", "color": "black"}, "encoding": {"text": {"field": "t"}}},
       {"transform": [{"filter": "datum.kind == 'title'"}], "mark": {"type": "text", "font": "DejaVu Sans", "fontWeight": "bold", "fontSize": 58, "baseline": "middle", "align": "center", "color": "black"}, "encoding": {"text": {"field": "t"}}}
     ]},
    {"width": 909, "height": 666, "data": {"name": "flowD"}, "transform": [{"filter": "datum.g == 'ASPP'"}],
     "encoding": {"x": {"field": "x", "type": "quantitative", "scale": {"domain": [-4.82, 142.63], "nice": false, "zero": false}, "axis": null},
                  "y": {"field": "y", "type": "quantitative", "scale": {"domain": [-1.13, 106.46], "nice": false, "zero": false}, "axis": null}},
     "layer": [
       {"transform": [{"filter": "datum.kind == 'blob'"}], "mark": {"type": "rect", "cornerRadius": 41}, "encoding": {"x2": {"field": "x2"}, "y2": {"field": "y2"}, "color": {"field": "d", "type": "quantitative", "scale": {"domain": [0, 1], "range": ["#f4f4f4", "#000000"]}, "legend": null}}},
       {"transform": [{"filter": "datum.kind == 'gate'"}], "mark": {"type": "rect", "fill": "transparent", "stroke": "black", "strokeWidth": 4}, "encoding": {"x2": {"field": "x2"}, "y2": {"field": "y2"}}},
       {"transform": [{"filter": "datum.kind == 'frame'"}], "mark": {"type": "rect", "fill": "transparent", "stroke": "black", "strokeWidth": 3}, "encoding": {"x2": {"field": "x2"}, "y2": {"field": "y2"}}},
       {"transform": [{"filter": "datum.kind == 'pct'"}], "mark": {"type": "text", "font": "Liberation Sans", "fontSize": 58, "baseline": "middle", "align": "center", "color": "black"}, "encoding": {"text": {"field": "t"}}},
       {"transform": [{"filter": "datum.kind == 'title'"}], "mark": {"type": "text", "font": "DejaVu Sans", "fontWeight": "bold", "fontSize": 58, "baseline": "middle", "align": "center", "color": "black"}, "encoding": {"text": {"field": "t"}}}
     ]},
    {"width": 927, "height": 666,
     "encoding": {"x": {"field": "group", "type": "nominal", "scale": {"type": "band", "domain": ["SHAM", "MCAO", "ASDW", "ASPP"], "paddingInner": 0.349, "paddingOuter": 0.433, "align": 0.592}, "axis": null}},
     "layer": [
       {"data": {"name": "bars"}, "transform": [{"filter": "datum.row == 'D'"}], "mark": {"type": "bar", "stroke": "black", "strokeWidth": 6},
        "encoding": {"y": {"field": "mean", "type": "quantitative", "title": "TCR-γδ⁺ RORγt⁺ (%)", "scale": {"domain": [0, 50], "nice": false, "zero": false}, "axis": {"values": [0, 10, 20, 30, 40, 50], "format": "d", "domain": false, "offset": -33.3, "titlePadding": 18}},
          "color": {"field": "group", "type": "nominal", "scale": {"domain": ["SHAM", "MCAO", "ASDW", "ASPP"], "range": ["#ffffff", "#383838", "#b3b3b3", "#000000"]},
            "legend": {"title": null, "orient": "none", "legendX": 918, "legendY": -119, "symbolType": "M-1,-0.65L1,-0.65L1,0.65L-1,0.65Z", "symbolSize": 2362, "symbolStrokeColor": "black", "symbolStrokeWidth": 4, "labelFont": "DejaVu Sans", "labelFontWeight": "bold", "labelFontSize": 40, "labelColor": "black", "labelOffset": 45, "rowPadding": 19, "padding": 0}}}},
       {"data": {"name": "bars"}, "transform": [{"filter": "datum.row == 'D'"}], "mark": {"type": "rule", "strokeWidth": 5, "color": "black"},
        "encoding": {"y": {"field": "mean", "type": "quantitative", "title": "TCR-γδ⁺ RORγt⁺ (%)"}, "y2": {"field": "upper"}}},
       {"data": {"name": "bars"}, "transform": [{"filter": "datum.row == 'D'"}], "mark": {"type": "tick", "size": 67, "thickness": 5, "color": "black", "opacity": 1},
        "encoding": {"y": {"field": "upper", "type": "quantitative", "title": "TCR-γδ⁺ RORγt⁺ (%)"}}},
       {"data": {"name": "axes"}, "transform": [{"filter": "datum.row == 'D'"}], "mark": {"type": "rule", "strokeWidth": 7, "color": "black", "strokeCap": "square"},
        "encoding": {"x": {"field": "xs", "type": "nominal", "bandPosition": -0.539, "axis": null}, "y": {"field": "y0", "type": "quantitative", "title": "TCR-γδ⁺ RORγt⁺ (%)"}, "y2": {"field": "y1"}}},
       {"data": {"name": "axes"}, "transform": [{"filter": "datum.row == 'D'"}], "mark": {"type": "rule", "strokeWidth": 7, "color": "black", "strokeCap": "square"},
        "encoding": {"x": {"field": "xs", "type": "nominal", "bandPosition": -0.539, "axis": null}, "x2": {"field": "xe", "bandPosition": 1.529}, "y": {"field": "y0", "type": "quantitative", "title": "TCR-γδ⁺ RORγt⁺ (%)"}}},
       {"data": {"name": "sig"}, "transform": [{"filter": "datum.row == 'D'"}], "mark": {"type": "rule", "strokeWidth": 3, "color": "#222222"},
        "encoding": {"x": {"field": "from", "type": "nominal", "bandPosition": 0.53, "axis": null}, "x2": {"field": "to", "bandPosition": 0.55}, "y": {"field": "y", "type": "quantitative", "title": "TCR-γδ⁺ RORγt⁺ (%)"}}},
       {"data": {"name": "sig"}, "transform": [{"filter": "datum.row == 'D' && datum.kind == 'wide'"}], "mark": {"type": "text", "font": "DejaVu Sans", "fontWeight": "bold", "fontSize": 54, "baseline": "alphabetic", "align": "center", "dy": 3, "color": "black"},
        "encoding": {"x": {"field": "at", "type": "nominal", "bandPosition": 0.53, "axis": null}, "y": {"field": "y", "type": "quantitative", "title": "TCR-γδ⁺ RORγt⁺ (%)"}, "text": {"field": "label"}}},
       {"data": {"name": "sig"}, "transform": [{"filter": "datum.row == 'D' && datum.kind == 'narrow'"}], "mark": {"type": "text", "font": "DejaVu Sans", "fontWeight": "bold", "fontSize": 54, "baseline": "alphabetic", "align": "center", "dy": 3, "color": "black"},
        "encoding": {"x": {"field": "at", "type": "nominal", "bandPosition": 1.3, "axis": null}, "y": {"field": "y", "type": "quantitative", "title": "TCR-γδ⁺ RORγt⁺ (%)"}, "text": {"field": "label"}}}
     ]}
  ],
  "config": {
    "font": "Liberation Sans",
    "view": {"stroke": null},
    "axis": {
      "domainColor": "black", "domainWidth": 7, "tickColor": "black", "tickWidth": 4, "tickSize": 22,
      "labelFont": "DejaVu Sans", "labelFontWeight": "bold", "labelFontSize": 29, "labelColor": "black", "labelPadding": 5,
      "grid": false, "titleFont": "DejaVu Sans", "titleFontWeight": "bold", "titleFontSize": 42, "titleColor": "black"
    }
  }
}
